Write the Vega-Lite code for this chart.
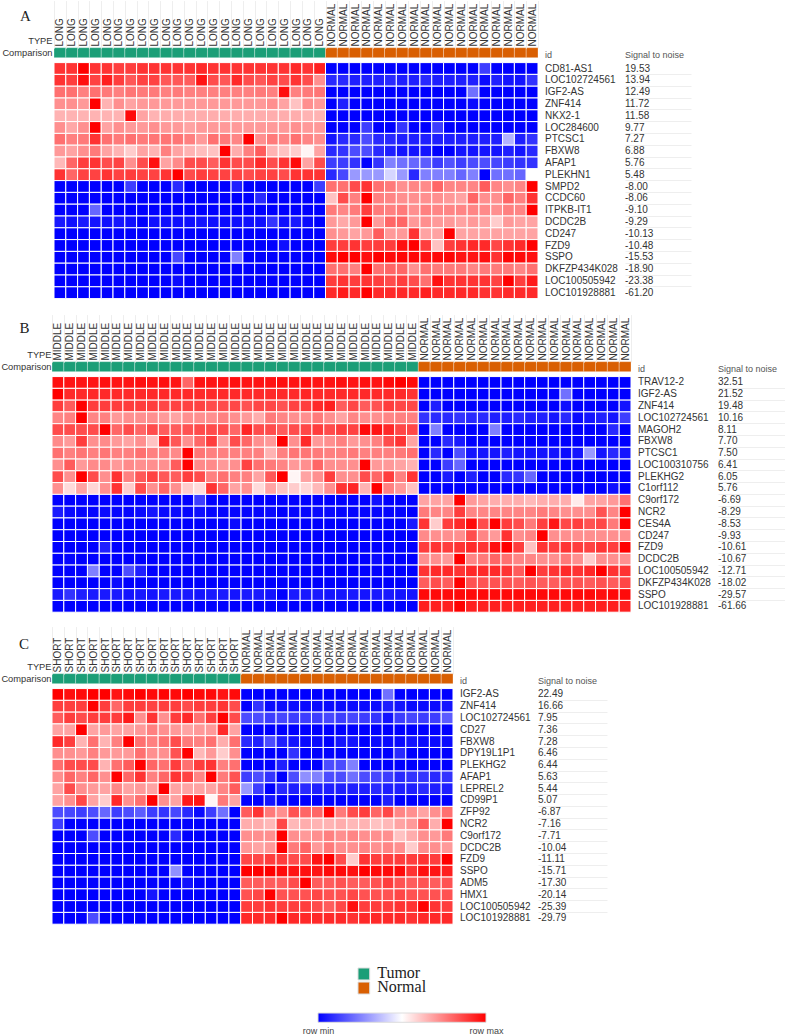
{"$schema":"https://vega.github.io/schema/vega-lite/v6.json","background":"white","padding":{"left":0,"top":0,"right":0,"bottom":0},"spacing":10,"config":{"view":{"stroke":null},"font":"Liberation Sans"},
"datasets":{
"cellsA":[
{"row":1,"col":1,"v":90},{"row":1,"col":2,"v":90},{"row":1,"col":3,"v":100},{"row":1,"col":4,"v":90},{"row":1,"col":5,"v":90},{"row":1,"col":6,"v":88},{"row":1,"col":7,"v":88},{"row":1,"col":8,"v":90},{"row":1,"col":9,"v":90},{"row":1,"col":10,"v":90},{"row":1,"col":11,"v":90},{"row":1,"col":12,"v":90},{"row":1,"col":13,"v":92},{"row":1,"col":14,"v":90},{"row":1,"col":15,"v":90},{"row":1,"col":16,"v":90},{"row":1,"col":17,"v":90},{"row":1,"col":18,"v":90},{"row":1,"col":19,"v":90},{"row":1,"col":20,"v":90},{"row":1,"col":21,"v":92},{"row":1,"col":22,"v":90},{"row":1,"col":23,"v":94},{"row":1,"col":24,"v":0},{"row":1,"col":25,"v":0},{"row":1,"col":26,"v":0},{"row":1,"col":27,"v":0},{"row":1,"col":28,"v":0},{"row":1,"col":29,"v":0},{"row":1,"col":30,"v":0},{"row":1,"col":31,"v":0},{"row":1,"col":32,"v":0},{"row":1,"col":33,"v":0},{"row":1,"col":34,"v":0},{"row":1,"col":35,"v":0},{"row":1,"col":36,"v":0},{"row":1,"col":37,"v":12},{"row":1,"col":38,"v":0},{"row":1,"col":39,"v":0},{"row":1,"col":40,"v":0},{"row":1,"col":41,"v":0},
{"row":2,"col":1,"v":90},{"row":2,"col":2,"v":88},{"row":2,"col":3,"v":97},{"row":2,"col":4,"v":87},{"row":2,"col":5,"v":94},{"row":2,"col":6,"v":88},{"row":2,"col":7,"v":83},{"row":2,"col":8,"v":87},{"row":2,"col":9,"v":87},{"row":2,"col":10,"v":83},{"row":2,"col":11,"v":83},{"row":2,"col":12,"v":82},{"row":2,"col":13,"v":96},{"row":2,"col":14,"v":85},{"row":2,"col":15,"v":83},{"row":2,"col":16,"v":92},{"row":2,"col":17,"v":85},{"row":2,"col":18,"v":83},{"row":2,"col":19,"v":87},{"row":2,"col":20,"v":85},{"row":2,"col":21,"v":90},{"row":2,"col":22,"v":85},{"row":2,"col":23,"v":72},{"row":2,"col":24,"v":8},{"row":2,"col":25,"v":8},{"row":2,"col":26,"v":6},{"row":2,"col":27,"v":6},{"row":2,"col":28,"v":6},{"row":2,"col":29,"v":8},{"row":2,"col":30,"v":6},{"row":2,"col":31,"v":6},{"row":2,"col":32,"v":8},{"row":2,"col":33,"v":6},{"row":2,"col":34,"v":6},{"row":2,"col":35,"v":6},{"row":2,"col":36,"v":6},{"row":2,"col":37,"v":2},{"row":2,"col":38,"v":6},{"row":2,"col":39,"v":4},{"row":2,"col":40,"v":4},{"row":2,"col":41,"v":10},
{"row":3,"col":1,"v":78},{"row":3,"col":2,"v":78},{"row":3,"col":3,"v":75},{"row":3,"col":4,"v":78},{"row":3,"col":5,"v":76},{"row":3,"col":6,"v":75},{"row":3,"col":7,"v":77},{"row":3,"col":8,"v":76},{"row":3,"col":9,"v":76},{"row":3,"col":10,"v":75},{"row":3,"col":11,"v":76},{"row":3,"col":12,"v":75},{"row":3,"col":13,"v":75},{"row":3,"col":14,"v":75},{"row":3,"col":15,"v":75},{"row":3,"col":16,"v":75},{"row":3,"col":17,"v":75},{"row":3,"col":18,"v":76},{"row":3,"col":19,"v":75},{"row":3,"col":20,"v":97},{"row":3,"col":21,"v":75},{"row":3,"col":22,"v":76},{"row":3,"col":23,"v":77},{"row":3,"col":24,"v":0},{"row":3,"col":25,"v":0},{"row":3,"col":26,"v":0},{"row":3,"col":27,"v":0},{"row":3,"col":28,"v":0},{"row":3,"col":29,"v":0},{"row":3,"col":30,"v":0},{"row":3,"col":31,"v":0},{"row":3,"col":32,"v":0},{"row":3,"col":33,"v":0},{"row":3,"col":34,"v":0},{"row":3,"col":35,"v":0},{"row":3,"col":36,"v":22},{"row":3,"col":37,"v":0},{"row":3,"col":38,"v":0},{"row":3,"col":39,"v":0},{"row":3,"col":40,"v":0},{"row":3,"col":41,"v":0},
{"row":4,"col":1,"v":72},{"row":4,"col":2,"v":72},{"row":4,"col":3,"v":70},{"row":4,"col":4,"v":100},{"row":4,"col":5,"v":65},{"row":4,"col":6,"v":72},{"row":4,"col":7,"v":68},{"row":4,"col":8,"v":70},{"row":4,"col":9,"v":70},{"row":4,"col":10,"v":70},{"row":4,"col":11,"v":70},{"row":4,"col":12,"v":70},{"row":4,"col":13,"v":70},{"row":4,"col":14,"v":70},{"row":4,"col":15,"v":70},{"row":4,"col":16,"v":70},{"row":4,"col":17,"v":70},{"row":4,"col":18,"v":70},{"row":4,"col":19,"v":72},{"row":4,"col":20,"v":68},{"row":4,"col":21,"v":62},{"row":4,"col":22,"v":72},{"row":4,"col":23,"v":70},{"row":4,"col":24,"v":0},{"row":4,"col":25,"v":6},{"row":4,"col":26,"v":0},{"row":4,"col":27,"v":0},{"row":4,"col":28,"v":0},{"row":4,"col":29,"v":0},{"row":4,"col":30,"v":0},{"row":4,"col":31,"v":0},{"row":4,"col":32,"v":0},{"row":4,"col":33,"v":0},{"row":4,"col":34,"v":0},{"row":4,"col":35,"v":0},{"row":4,"col":36,"v":2},{"row":4,"col":37,"v":0},{"row":4,"col":38,"v":0},{"row":4,"col":39,"v":0},{"row":4,"col":40,"v":0},{"row":4,"col":41,"v":0},
{"row":5,"col":1,"v":65},{"row":5,"col":2,"v":65},{"row":5,"col":3,"v":65},{"row":5,"col":4,"v":65},{"row":5,"col":5,"v":65},{"row":5,"col":6,"v":65},{"row":5,"col":7,"v":98},{"row":5,"col":8,"v":68},{"row":5,"col":9,"v":65},{"row":5,"col":10,"v":66},{"row":5,"col":11,"v":66},{"row":5,"col":12,"v":66},{"row":5,"col":13,"v":66},{"row":5,"col":14,"v":66},{"row":5,"col":15,"v":66},{"row":5,"col":16,"v":66},{"row":5,"col":17,"v":66},{"row":5,"col":18,"v":66},{"row":5,"col":19,"v":66},{"row":5,"col":20,"v":66},{"row":5,"col":21,"v":66},{"row":5,"col":22,"v":65},{"row":5,"col":23,"v":65},{"row":5,"col":24,"v":0},{"row":5,"col":25,"v":0},{"row":5,"col":26,"v":0},{"row":5,"col":27,"v":0},{"row":5,"col":28,"v":0},{"row":5,"col":29,"v":0},{"row":5,"col":30,"v":0},{"row":5,"col":31,"v":0},{"row":5,"col":32,"v":0},{"row":5,"col":33,"v":0},{"row":5,"col":34,"v":0},{"row":5,"col":35,"v":0},{"row":5,"col":36,"v":0},{"row":5,"col":37,"v":0},{"row":5,"col":38,"v":0},{"row":5,"col":39,"v":0},{"row":5,"col":40,"v":0},{"row":5,"col":41,"v":0},
{"row":6,"col":1,"v":72},{"row":6,"col":2,"v":67},{"row":6,"col":3,"v":72},{"row":6,"col":4,"v":100},{"row":6,"col":5,"v":68},{"row":6,"col":6,"v":72},{"row":6,"col":7,"v":70},{"row":6,"col":8,"v":70},{"row":6,"col":9,"v":72},{"row":6,"col":10,"v":70},{"row":6,"col":11,"v":70},{"row":6,"col":12,"v":68},{"row":6,"col":13,"v":70},{"row":6,"col":14,"v":70},{"row":6,"col":15,"v":70},{"row":6,"col":16,"v":70},{"row":6,"col":17,"v":70},{"row":6,"col":18,"v":70},{"row":6,"col":19,"v":70},{"row":6,"col":20,"v":70},{"row":6,"col":21,"v":72},{"row":6,"col":22,"v":70},{"row":6,"col":23,"v":70},{"row":6,"col":24,"v":0},{"row":6,"col":25,"v":0},{"row":6,"col":26,"v":0},{"row":6,"col":27,"v":12},{"row":6,"col":28,"v":0},{"row":6,"col":29,"v":0},{"row":6,"col":30,"v":10},{"row":6,"col":31,"v":0},{"row":6,"col":32,"v":0},{"row":6,"col":33,"v":12},{"row":6,"col":34,"v":0},{"row":6,"col":35,"v":0},{"row":6,"col":36,"v":0},{"row":6,"col":37,"v":0},{"row":6,"col":38,"v":0},{"row":6,"col":39,"v":0},{"row":6,"col":40,"v":0},{"row":6,"col":41,"v":0},
{"row":7,"col":1,"v":78},{"row":7,"col":2,"v":75},{"row":7,"col":3,"v":76},{"row":7,"col":4,"v":90},{"row":7,"col":5,"v":78},{"row":7,"col":6,"v":76},{"row":7,"col":7,"v":78},{"row":7,"col":8,"v":76},{"row":7,"col":9,"v":77},{"row":7,"col":10,"v":77},{"row":7,"col":11,"v":77},{"row":7,"col":12,"v":75},{"row":7,"col":13,"v":70},{"row":7,"col":14,"v":78},{"row":7,"col":15,"v":76},{"row":7,"col":16,"v":74},{"row":7,"col":17,"v":100},{"row":7,"col":18,"v":72},{"row":7,"col":19,"v":76},{"row":7,"col":20,"v":74},{"row":7,"col":21,"v":78},{"row":7,"col":22,"v":74},{"row":7,"col":23,"v":72},{"row":7,"col":24,"v":4},{"row":7,"col":25,"v":8},{"row":7,"col":26,"v":8},{"row":7,"col":27,"v":15},{"row":7,"col":28,"v":8},{"row":7,"col":29,"v":8},{"row":7,"col":30,"v":6},{"row":7,"col":31,"v":6},{"row":7,"col":32,"v":6},{"row":7,"col":33,"v":6},{"row":7,"col":34,"v":6},{"row":7,"col":35,"v":6},{"row":7,"col":36,"v":6},{"row":7,"col":37,"v":6},{"row":7,"col":38,"v":6},{"row":7,"col":39,"v":35},{"row":7,"col":40,"v":6},{"row":7,"col":41,"v":10},
{"row":8,"col":1,"v":70},{"row":8,"col":2,"v":68},{"row":8,"col":3,"v":72},{"row":8,"col":4,"v":76},{"row":8,"col":5,"v":68},{"row":8,"col":6,"v":65},{"row":8,"col":7,"v":60},{"row":8,"col":8,"v":68},{"row":8,"col":9,"v":65},{"row":8,"col":10,"v":75},{"row":8,"col":11,"v":68},{"row":8,"col":12,"v":65},{"row":8,"col":13,"v":63},{"row":8,"col":14,"v":62},{"row":8,"col":15,"v":100},{"row":8,"col":16,"v":66},{"row":8,"col":17,"v":75},{"row":8,"col":18,"v":82},{"row":8,"col":19,"v":65},{"row":8,"col":20,"v":62},{"row":8,"col":21,"v":60},{"row":8,"col":22,"v":52},{"row":8,"col":23,"v":68},{"row":8,"col":24,"v":8},{"row":8,"col":25,"v":10},{"row":8,"col":26,"v":15},{"row":8,"col":27,"v":15},{"row":8,"col":28,"v":8},{"row":8,"col":29,"v":6},{"row":8,"col":30,"v":4},{"row":8,"col":31,"v":4},{"row":8,"col":32,"v":4},{"row":8,"col":33,"v":0},{"row":8,"col":34,"v":0},{"row":8,"col":35,"v":4},{"row":8,"col":36,"v":4},{"row":8,"col":37,"v":4},{"row":8,"col":38,"v":4},{"row":8,"col":39,"v":6},{"row":8,"col":40,"v":4},{"row":8,"col":41,"v":8},
{"row":9,"col":1,"v":64},{"row":9,"col":2,"v":80},{"row":9,"col":3,"v":88},{"row":9,"col":4,"v":90},{"row":9,"col":5,"v":85},{"row":9,"col":6,"v":87},{"row":9,"col":7,"v":72},{"row":9,"col":8,"v":85},{"row":9,"col":9,"v":97},{"row":9,"col":10,"v":68},{"row":9,"col":11,"v":73},{"row":9,"col":12,"v":85},{"row":9,"col":13,"v":85},{"row":9,"col":14,"v":82},{"row":9,"col":15,"v":90},{"row":9,"col":16,"v":85},{"row":9,"col":17,"v":85},{"row":9,"col":18,"v":92},{"row":9,"col":19,"v":85},{"row":9,"col":20,"v":90},{"row":9,"col":21,"v":98},{"row":9,"col":22,"v":68},{"row":9,"col":23,"v":85},{"row":9,"col":24,"v":12},{"row":9,"col":25,"v":12},{"row":9,"col":26,"v":10},{"row":9,"col":27,"v":0},{"row":9,"col":28,"v":10},{"row":9,"col":29,"v":25},{"row":9,"col":30,"v":22},{"row":9,"col":31,"v":20},{"row":9,"col":32,"v":18},{"row":9,"col":33,"v":12},{"row":9,"col":34,"v":16},{"row":9,"col":35,"v":12},{"row":9,"col":36,"v":15},{"row":9,"col":37,"v":15},{"row":9,"col":38,"v":14},{"row":9,"col":39,"v":12},{"row":9,"col":40,"v":10},{"row":9,"col":41,"v":10},
{"row":10,"col":1,"v":90},{"row":10,"col":2,"v":80},{"row":10,"col":3,"v":87},{"row":10,"col":4,"v":87},{"row":10,"col":5,"v":90},{"row":10,"col":6,"v":87},{"row":10,"col":7,"v":88},{"row":10,"col":8,"v":87},{"row":10,"col":9,"v":87},{"row":10,"col":10,"v":90},{"row":10,"col":11,"v":100},{"row":10,"col":12,"v":85},{"row":10,"col":13,"v":88},{"row":10,"col":14,"v":87},{"row":10,"col":15,"v":87},{"row":10,"col":16,"v":87},{"row":10,"col":17,"v":85},{"row":10,"col":18,"v":87},{"row":10,"col":19,"v":87},{"row":10,"col":20,"v":85},{"row":10,"col":21,"v":90},{"row":10,"col":22,"v":90},{"row":10,"col":23,"v":90},{"row":10,"col":24,"v":8},{"row":10,"col":25,"v":14},{"row":10,"col":26,"v":30},{"row":10,"col":27,"v":30},{"row":10,"col":28,"v":30},{"row":10,"col":29,"v":42},{"row":10,"col":30,"v":30},{"row":10,"col":31,"v":8},{"row":10,"col":32,"v":25},{"row":10,"col":33,"v":25},{"row":10,"col":34,"v":25},{"row":10,"col":35,"v":20},{"row":10,"col":36,"v":25},{"row":10,"col":37,"v":0},{"row":10,"col":38,"v":22},{"row":10,"col":39,"v":22},{"row":10,"col":40,"v":20},{"row":10,"col":41,"v":50},
{"row":11,"col":1,"v":0},{"row":11,"col":2,"v":0},{"row":11,"col":3,"v":0},{"row":11,"col":4,"v":0},{"row":11,"col":5,"v":0},{"row":11,"col":6,"v":0},{"row":11,"col":7,"v":12},{"row":11,"col":8,"v":0},{"row":11,"col":9,"v":0},{"row":11,"col":10,"v":0},{"row":11,"col":11,"v":8},{"row":11,"col":12,"v":0},{"row":11,"col":13,"v":0},{"row":11,"col":14,"v":0},{"row":11,"col":15,"v":0},{"row":11,"col":16,"v":6},{"row":11,"col":17,"v":0},{"row":11,"col":18,"v":0},{"row":11,"col":19,"v":0},{"row":11,"col":20,"v":0},{"row":11,"col":21,"v":0},{"row":11,"col":22,"v":0},{"row":11,"col":23,"v":12},{"row":11,"col":24,"v":78},{"row":11,"col":25,"v":78},{"row":11,"col":26,"v":85},{"row":11,"col":27,"v":90},{"row":11,"col":28,"v":78},{"row":11,"col":29,"v":76},{"row":11,"col":30,"v":72},{"row":11,"col":31,"v":74},{"row":11,"col":32,"v":73},{"row":11,"col":33,"v":80},{"row":11,"col":34,"v":74},{"row":11,"col":35,"v":74},{"row":11,"col":36,"v":74},{"row":11,"col":37,"v":82},{"row":11,"col":38,"v":74},{"row":11,"col":39,"v":72},{"row":11,"col":40,"v":74},{"row":11,"col":41,"v":100},
{"row":12,"col":1,"v":0},{"row":12,"col":2,"v":0},{"row":12,"col":3,"v":0},{"row":12,"col":4,"v":0},{"row":12,"col":5,"v":0},{"row":12,"col":6,"v":0},{"row":12,"col":7,"v":0},{"row":12,"col":8,"v":0},{"row":12,"col":9,"v":0},{"row":12,"col":10,"v":0},{"row":12,"col":11,"v":0},{"row":12,"col":12,"v":0},{"row":12,"col":13,"v":0},{"row":12,"col":14,"v":0},{"row":12,"col":15,"v":0},{"row":12,"col":16,"v":0},{"row":12,"col":17,"v":0},{"row":12,"col":18,"v":8},{"row":12,"col":19,"v":0},{"row":12,"col":20,"v":0},{"row":12,"col":21,"v":0},{"row":12,"col":22,"v":0},{"row":12,"col":23,"v":0},{"row":12,"col":24,"v":62},{"row":12,"col":25,"v":85},{"row":12,"col":26,"v":75},{"row":12,"col":27,"v":100},{"row":12,"col":28,"v":75},{"row":12,"col":29,"v":74},{"row":12,"col":30,"v":72},{"row":12,"col":31,"v":72},{"row":12,"col":32,"v":72},{"row":12,"col":33,"v":72},{"row":12,"col":34,"v":70},{"row":12,"col":35,"v":68},{"row":12,"col":36,"v":80},{"row":12,"col":37,"v":72},{"row":12,"col":38,"v":72},{"row":12,"col":39,"v":80},{"row":12,"col":40,"v":75},{"row":12,"col":41,"v":90},
{"row":13,"col":1,"v":0},{"row":13,"col":2,"v":0},{"row":13,"col":3,"v":0},{"row":13,"col":4,"v":20},{"row":13,"col":5,"v":0},{"row":13,"col":6,"v":0},{"row":13,"col":7,"v":0},{"row":13,"col":8,"v":0},{"row":13,"col":9,"v":0},{"row":13,"col":10,"v":0},{"row":13,"col":11,"v":0},{"row":13,"col":12,"v":0},{"row":13,"col":13,"v":0},{"row":13,"col":14,"v":0},{"row":13,"col":15,"v":0},{"row":13,"col":16,"v":0},{"row":13,"col":17,"v":0},{"row":13,"col":18,"v":0},{"row":13,"col":19,"v":0},{"row":13,"col":20,"v":0},{"row":13,"col":21,"v":0},{"row":13,"col":22,"v":0},{"row":13,"col":23,"v":0},{"row":13,"col":24,"v":76},{"row":13,"col":25,"v":74},{"row":13,"col":26,"v":76},{"row":13,"col":27,"v":88},{"row":13,"col":28,"v":76},{"row":13,"col":29,"v":75},{"row":13,"col":30,"v":76},{"row":13,"col":31,"v":72},{"row":13,"col":32,"v":75},{"row":13,"col":33,"v":74},{"row":13,"col":34,"v":74},{"row":13,"col":35,"v":74},{"row":13,"col":36,"v":74},{"row":13,"col":37,"v":73},{"row":13,"col":38,"v":72},{"row":13,"col":39,"v":75},{"row":13,"col":40,"v":74},{"row":13,"col":41,"v":100},
{"row":14,"col":1,"v":5},{"row":14,"col":2,"v":3},{"row":14,"col":3,"v":5},{"row":14,"col":4,"v":4},{"row":14,"col":5,"v":3},{"row":14,"col":6,"v":4},{"row":14,"col":7,"v":3},{"row":14,"col":8,"v":0},{"row":14,"col":9,"v":3},{"row":14,"col":10,"v":3},{"row":14,"col":11,"v":3},{"row":14,"col":12,"v":3},{"row":14,"col":13,"v":4},{"row":14,"col":14,"v":3},{"row":14,"col":15,"v":2},{"row":14,"col":16,"v":3},{"row":14,"col":17,"v":3},{"row":14,"col":18,"v":3},{"row":14,"col":19,"v":10},{"row":14,"col":20,"v":3},{"row":14,"col":21,"v":5},{"row":14,"col":22,"v":2},{"row":14,"col":23,"v":0},{"row":14,"col":24,"v":70},{"row":14,"col":25,"v":67},{"row":14,"col":26,"v":70},{"row":14,"col":27,"v":100},{"row":14,"col":28,"v":70},{"row":14,"col":29,"v":80},{"row":14,"col":30,"v":80},{"row":14,"col":31,"v":70},{"row":14,"col":32,"v":72},{"row":14,"col":33,"v":70},{"row":14,"col":34,"v":70},{"row":14,"col":35,"v":68},{"row":14,"col":36,"v":70},{"row":14,"col":37,"v":68},{"row":14,"col":38,"v":60},{"row":14,"col":39,"v":70},{"row":14,"col":40,"v":68},{"row":14,"col":41,"v":68},
{"row":15,"col":1,"v":0},{"row":15,"col":2,"v":0},{"row":15,"col":3,"v":0},{"row":15,"col":4,"v":0},{"row":15,"col":5,"v":0},{"row":15,"col":6,"v":0},{"row":15,"col":7,"v":0},{"row":15,"col":8,"v":0},{"row":15,"col":9,"v":0},{"row":15,"col":10,"v":0},{"row":15,"col":11,"v":0},{"row":15,"col":12,"v":0},{"row":15,"col":13,"v":0},{"row":15,"col":14,"v":0},{"row":15,"col":15,"v":0},{"row":15,"col":16,"v":0},{"row":15,"col":17,"v":0},{"row":15,"col":18,"v":0},{"row":15,"col":19,"v":0},{"row":15,"col":20,"v":0},{"row":15,"col":21,"v":0},{"row":15,"col":22,"v":0},{"row":15,"col":23,"v":0},{"row":15,"col":24,"v":72},{"row":15,"col":25,"v":70},{"row":15,"col":26,"v":68},{"row":15,"col":27,"v":70},{"row":15,"col":28,"v":82},{"row":15,"col":29,"v":70},{"row":15,"col":30,"v":70},{"row":15,"col":31,"v":90},{"row":15,"col":32,"v":68},{"row":15,"col":33,"v":68},{"row":15,"col":34,"v":100},{"row":15,"col":35,"v":68},{"row":15,"col":36,"v":68},{"row":15,"col":37,"v":68},{"row":15,"col":38,"v":68},{"row":15,"col":39,"v":68},{"row":15,"col":40,"v":68},{"row":15,"col":41,"v":68},
{"row":16,"col":1,"v":0},{"row":16,"col":2,"v":0},{"row":16,"col":3,"v":0},{"row":16,"col":4,"v":0},{"row":16,"col":5,"v":0},{"row":16,"col":6,"v":0},{"row":16,"col":7,"v":0},{"row":16,"col":8,"v":0},{"row":16,"col":9,"v":0},{"row":16,"col":10,"v":0},{"row":16,"col":11,"v":0},{"row":16,"col":12,"v":0},{"row":16,"col":13,"v":0},{"row":16,"col":14,"v":0},{"row":16,"col":15,"v":0},{"row":16,"col":16,"v":0},{"row":16,"col":17,"v":0},{"row":16,"col":18,"v":0},{"row":16,"col":19,"v":0},{"row":16,"col":20,"v":3},{"row":16,"col":21,"v":0},{"row":16,"col":22,"v":0},{"row":16,"col":23,"v":0},{"row":16,"col":24,"v":88},{"row":16,"col":25,"v":88},{"row":16,"col":26,"v":90},{"row":16,"col":27,"v":88},{"row":16,"col":28,"v":88},{"row":16,"col":29,"v":88},{"row":16,"col":30,"v":97},{"row":16,"col":31,"v":100},{"row":16,"col":32,"v":88},{"row":16,"col":33,"v":62},{"row":16,"col":34,"v":88},{"row":16,"col":35,"v":90},{"row":16,"col":36,"v":92},{"row":16,"col":37,"v":92},{"row":16,"col":38,"v":86},{"row":16,"col":39,"v":90},{"row":16,"col":40,"v":92},{"row":16,"col":41,"v":100},
{"row":17,"col":1,"v":0},{"row":17,"col":2,"v":0},{"row":17,"col":3,"v":0},{"row":17,"col":4,"v":0},{"row":17,"col":5,"v":0},{"row":17,"col":6,"v":0},{"row":17,"col":7,"v":0},{"row":17,"col":8,"v":0},{"row":17,"col":9,"v":0},{"row":17,"col":10,"v":0},{"row":17,"col":11,"v":14},{"row":17,"col":12,"v":0},{"row":17,"col":13,"v":0},{"row":17,"col":14,"v":0},{"row":17,"col":15,"v":0},{"row":17,"col":16,"v":25},{"row":17,"col":17,"v":0},{"row":17,"col":18,"v":0},{"row":17,"col":19,"v":0},{"row":17,"col":20,"v":0},{"row":17,"col":21,"v":0},{"row":17,"col":22,"v":0},{"row":17,"col":23,"v":0},{"row":17,"col":24,"v":98},{"row":17,"col":25,"v":100},{"row":17,"col":26,"v":100},{"row":17,"col":27,"v":97},{"row":17,"col":28,"v":100},{"row":17,"col":29,"v":98},{"row":17,"col":30,"v":99},{"row":17,"col":31,"v":99},{"row":17,"col":32,"v":97},{"row":17,"col":33,"v":98},{"row":17,"col":34,"v":99},{"row":17,"col":35,"v":96},{"row":17,"col":36,"v":96},{"row":17,"col":37,"v":97},{"row":17,"col":38,"v":90},{"row":17,"col":39,"v":99},{"row":17,"col":40,"v":98},{"row":17,"col":41,"v":97},
{"row":18,"col":1,"v":0},{"row":18,"col":2,"v":0},{"row":18,"col":3,"v":0},{"row":18,"col":4,"v":0},{"row":18,"col":5,"v":0},{"row":18,"col":6,"v":0},{"row":18,"col":7,"v":0},{"row":18,"col":8,"v":0},{"row":18,"col":9,"v":0},{"row":18,"col":10,"v":0},{"row":18,"col":11,"v":0},{"row":18,"col":12,"v":0},{"row":18,"col":13,"v":0},{"row":18,"col":14,"v":0},{"row":18,"col":15,"v":0},{"row":18,"col":16,"v":0},{"row":18,"col":17,"v":0},{"row":18,"col":18,"v":0},{"row":18,"col":19,"v":0},{"row":18,"col":20,"v":0},{"row":18,"col":21,"v":0},{"row":18,"col":22,"v":0},{"row":18,"col":23,"v":0},{"row":18,"col":24,"v":78},{"row":18,"col":25,"v":78},{"row":18,"col":26,"v":75},{"row":18,"col":27,"v":100},{"row":18,"col":28,"v":78},{"row":18,"col":29,"v":80},{"row":18,"col":30,"v":80},{"row":18,"col":31,"v":72},{"row":18,"col":32,"v":78},{"row":18,"col":33,"v":76},{"row":18,"col":34,"v":76},{"row":18,"col":35,"v":76},{"row":18,"col":36,"v":74},{"row":18,"col":37,"v":76},{"row":18,"col":38,"v":76},{"row":18,"col":39,"v":76},{"row":18,"col":40,"v":74},{"row":18,"col":41,"v":78},
{"row":19,"col":1,"v":0},{"row":19,"col":2,"v":0},{"row":19,"col":3,"v":0},{"row":19,"col":4,"v":0},{"row":19,"col":5,"v":0},{"row":19,"col":6,"v":0},{"row":19,"col":7,"v":0},{"row":19,"col":8,"v":0},{"row":19,"col":9,"v":0},{"row":19,"col":10,"v":0},{"row":19,"col":11,"v":2},{"row":19,"col":12,"v":0},{"row":19,"col":13,"v":0},{"row":19,"col":14,"v":0},{"row":19,"col":15,"v":0},{"row":19,"col":16,"v":0},{"row":19,"col":17,"v":0},{"row":19,"col":18,"v":0},{"row":19,"col":19,"v":0},{"row":19,"col":20,"v":0},{"row":19,"col":21,"v":0},{"row":19,"col":22,"v":0},{"row":19,"col":23,"v":0},{"row":19,"col":24,"v":88},{"row":19,"col":25,"v":90},{"row":19,"col":26,"v":88},{"row":19,"col":27,"v":90},{"row":19,"col":28,"v":88},{"row":19,"col":29,"v":85},{"row":19,"col":30,"v":88},{"row":19,"col":31,"v":85},{"row":19,"col":32,"v":78},{"row":19,"col":33,"v":97},{"row":19,"col":34,"v":90},{"row":19,"col":35,"v":90},{"row":19,"col":36,"v":90},{"row":19,"col":37,"v":90},{"row":19,"col":38,"v":87},{"row":19,"col":39,"v":100},{"row":19,"col":40,"v":88},{"row":19,"col":41,"v":95},
{"row":20,"col":1,"v":0},{"row":20,"col":2,"v":0},{"row":20,"col":3,"v":0},{"row":20,"col":4,"v":0},{"row":20,"col":5,"v":0},{"row":20,"col":6,"v":0},{"row":20,"col":7,"v":0},{"row":20,"col":8,"v":0},{"row":20,"col":9,"v":0},{"row":20,"col":10,"v":0},{"row":20,"col":11,"v":0},{"row":20,"col":12,"v":0},{"row":20,"col":13,"v":0},{"row":20,"col":14,"v":0},{"row":20,"col":15,"v":0},{"row":20,"col":16,"v":0},{"row":20,"col":17,"v":0},{"row":20,"col":18,"v":0},{"row":20,"col":19,"v":0},{"row":20,"col":20,"v":0},{"row":20,"col":21,"v":0},{"row":20,"col":22,"v":0},{"row":20,"col":23,"v":0},{"row":20,"col":24,"v":92},{"row":20,"col":25,"v":95},{"row":20,"col":26,"v":92},{"row":20,"col":27,"v":100},{"row":20,"col":28,"v":92},{"row":20,"col":29,"v":92},{"row":20,"col":30,"v":92},{"row":20,"col":31,"v":92},{"row":20,"col":32,"v":94},{"row":20,"col":33,"v":92},{"row":20,"col":34,"v":92},{"row":20,"col":35,"v":92},{"row":20,"col":36,"v":92},{"row":20,"col":37,"v":90},{"row":20,"col":38,"v":90},{"row":20,"col":39,"v":92},{"row":20,"col":40,"v":92},{"row":20,"col":41,"v":92}
],
"cellsB":[
{"row":1,"col":1,"v":97},{"row":1,"col":2,"v":96},{"row":1,"col":3,"v":96},{"row":1,"col":4,"v":96},{"row":1,"col":5,"v":97},{"row":1,"col":6,"v":96},{"row":1,"col":7,"v":96},{"row":1,"col":8,"v":97},{"row":1,"col":9,"v":96},{"row":1,"col":10,"v":97},{"row":1,"col":11,"v":96},{"row":1,"col":12,"v":80},{"row":1,"col":13,"v":96},{"row":1,"col":14,"v":96},{"row":1,"col":15,"v":96},{"row":1,"col":16,"v":97},{"row":1,"col":17,"v":96},{"row":1,"col":18,"v":96},{"row":1,"col":19,"v":96},{"row":1,"col":20,"v":97},{"row":1,"col":21,"v":96},{"row":1,"col":22,"v":97},{"row":1,"col":23,"v":96},{"row":1,"col":24,"v":96},{"row":1,"col":25,"v":97},{"row":1,"col":26,"v":96},{"row":1,"col":27,"v":97},{"row":1,"col":28,"v":96},{"row":1,"col":29,"v":98},{"row":1,"col":30,"v":100},{"row":1,"col":31,"v":98},{"row":1,"col":32,"v":0},{"row":1,"col":33,"v":0},{"row":1,"col":34,"v":0},{"row":1,"col":35,"v":0},{"row":1,"col":36,"v":0},{"row":1,"col":37,"v":0},{"row":1,"col":38,"v":0},{"row":1,"col":39,"v":0},{"row":1,"col":40,"v":0},{"row":1,"col":41,"v":0},{"row":1,"col":42,"v":0},{"row":1,"col":43,"v":0},{"row":1,"col":44,"v":0},{"row":1,"col":45,"v":0},{"row":1,"col":46,"v":0},{"row":1,"col":47,"v":0},{"row":1,"col":48,"v":0},{"row":1,"col":49,"v":0},
{"row":2,"col":1,"v":100},{"row":2,"col":2,"v":92},{"row":2,"col":3,"v":92},{"row":2,"col":4,"v":92},{"row":2,"col":5,"v":92},{"row":2,"col":6,"v":92},{"row":2,"col":7,"v":92},{"row":2,"col":8,"v":92},{"row":2,"col":9,"v":92},{"row":2,"col":10,"v":92},{"row":2,"col":11,"v":92},{"row":2,"col":12,"v":92},{"row":2,"col":13,"v":92},{"row":2,"col":14,"v":92},{"row":2,"col":15,"v":92},{"row":2,"col":16,"v":92},{"row":2,"col":17,"v":92},{"row":2,"col":18,"v":92},{"row":2,"col":19,"v":92},{"row":2,"col":20,"v":92},{"row":2,"col":21,"v":92},{"row":2,"col":22,"v":93},{"row":2,"col":23,"v":92},{"row":2,"col":24,"v":92},{"row":2,"col":25,"v":92},{"row":2,"col":26,"v":92},{"row":2,"col":27,"v":92},{"row":2,"col":28,"v":92},{"row":2,"col":29,"v":92},{"row":2,"col":30,"v":92},{"row":2,"col":31,"v":90},{"row":2,"col":32,"v":0},{"row":2,"col":33,"v":0},{"row":2,"col":34,"v":0},{"row":2,"col":35,"v":0},{"row":2,"col":36,"v":0},{"row":2,"col":37,"v":0},{"row":2,"col":38,"v":0},{"row":2,"col":39,"v":0},{"row":2,"col":40,"v":0},{"row":2,"col":41,"v":0},{"row":2,"col":42,"v":0},{"row":2,"col":43,"v":0},{"row":2,"col":44,"v":22},{"row":2,"col":45,"v":0},{"row":2,"col":46,"v":0},{"row":2,"col":47,"v":0},{"row":2,"col":48,"v":0},{"row":2,"col":49,"v":0},
{"row":3,"col":1,"v":88},{"row":3,"col":2,"v":82},{"row":3,"col":3,"v":100},{"row":3,"col":4,"v":88},{"row":3,"col":5,"v":88},{"row":3,"col":6,"v":88},{"row":3,"col":7,"v":88},{"row":3,"col":8,"v":88},{"row":3,"col":9,"v":88},{"row":3,"col":10,"v":86},{"row":3,"col":11,"v":87},{"row":3,"col":12,"v":87},{"row":3,"col":13,"v":87},{"row":3,"col":14,"v":85},{"row":3,"col":15,"v":85},{"row":3,"col":16,"v":86},{"row":3,"col":17,"v":84},{"row":3,"col":18,"v":86},{"row":3,"col":19,"v":86},{"row":3,"col":20,"v":84},{"row":3,"col":21,"v":87},{"row":3,"col":22,"v":88},{"row":3,"col":23,"v":92},{"row":3,"col":24,"v":94},{"row":3,"col":25,"v":82},{"row":3,"col":26,"v":86},{"row":3,"col":27,"v":82},{"row":3,"col":28,"v":84},{"row":3,"col":29,"v":88},{"row":3,"col":30,"v":86},{"row":3,"col":31,"v":86},{"row":3,"col":32,"v":0},{"row":3,"col":33,"v":6},{"row":3,"col":34,"v":0},{"row":3,"col":35,"v":0},{"row":3,"col":36,"v":0},{"row":3,"col":37,"v":0},{"row":3,"col":38,"v":0},{"row":3,"col":39,"v":0},{"row":3,"col":40,"v":0},{"row":3,"col":41,"v":0},{"row":3,"col":42,"v":0},{"row":3,"col":43,"v":0},{"row":3,"col":44,"v":3},{"row":3,"col":45,"v":0},{"row":3,"col":46,"v":0},{"row":3,"col":47,"v":0},{"row":3,"col":48,"v":0},{"row":3,"col":49,"v":4},
{"row":4,"col":1,"v":74},{"row":4,"col":2,"v":75},{"row":4,"col":3,"v":100},{"row":4,"col":4,"v":74},{"row":4,"col":5,"v":75},{"row":4,"col":6,"v":70},{"row":4,"col":7,"v":72},{"row":4,"col":8,"v":72},{"row":4,"col":9,"v":72},{"row":4,"col":10,"v":70},{"row":4,"col":11,"v":68},{"row":4,"col":12,"v":72},{"row":4,"col":13,"v":72},{"row":4,"col":14,"v":72},{"row":4,"col":15,"v":75},{"row":4,"col":16,"v":72},{"row":4,"col":17,"v":70},{"row":4,"col":18,"v":66},{"row":4,"col":19,"v":76},{"row":4,"col":20,"v":74},{"row":4,"col":21,"v":72},{"row":4,"col":22,"v":72},{"row":4,"col":23,"v":76},{"row":4,"col":24,"v":72},{"row":4,"col":25,"v":68},{"row":4,"col":26,"v":74},{"row":4,"col":27,"v":72},{"row":4,"col":28,"v":72},{"row":4,"col":29,"v":74},{"row":4,"col":30,"v":75},{"row":4,"col":31,"v":75},{"row":4,"col":32,"v":10},{"row":4,"col":33,"v":8},{"row":4,"col":34,"v":8},{"row":4,"col":35,"v":10},{"row":4,"col":36,"v":8},{"row":4,"col":37,"v":8},{"row":4,"col":38,"v":6},{"row":4,"col":39,"v":6},{"row":4,"col":40,"v":8},{"row":4,"col":41,"v":6},{"row":4,"col":42,"v":6},{"row":4,"col":43,"v":4},{"row":4,"col":44,"v":8},{"row":4,"col":45,"v":2},{"row":4,"col":46,"v":4},{"row":4,"col":47,"v":6},{"row":4,"col":48,"v":4},{"row":4,"col":49,"v":12},
{"row":5,"col":1,"v":85},{"row":5,"col":2,"v":85},{"row":5,"col":3,"v":85},{"row":5,"col":4,"v":85},{"row":5,"col":5,"v":100},{"row":5,"col":6,"v":80},{"row":5,"col":7,"v":85},{"row":5,"col":8,"v":80},{"row":5,"col":9,"v":85},{"row":5,"col":10,"v":82},{"row":5,"col":11,"v":82},{"row":5,"col":12,"v":84},{"row":5,"col":13,"v":85},{"row":5,"col":14,"v":85},{"row":5,"col":15,"v":85},{"row":5,"col":16,"v":80},{"row":5,"col":17,"v":93},{"row":5,"col":18,"v":85},{"row":5,"col":19,"v":85},{"row":5,"col":20,"v":82},{"row":5,"col":21,"v":85},{"row":5,"col":22,"v":86},{"row":5,"col":23,"v":88},{"row":5,"col":24,"v":85},{"row":5,"col":25,"v":88},{"row":5,"col":26,"v":87},{"row":5,"col":27,"v":98},{"row":5,"col":28,"v":96},{"row":5,"col":29,"v":92},{"row":5,"col":30,"v":86},{"row":5,"col":31,"v":86},{"row":5,"col":32,"v":0},{"row":5,"col":33,"v":25},{"row":5,"col":34,"v":0},{"row":5,"col":35,"v":0},{"row":5,"col":36,"v":0},{"row":5,"col":37,"v":0},{"row":5,"col":38,"v":25},{"row":5,"col":39,"v":0},{"row":5,"col":40,"v":0},{"row":5,"col":41,"v":0},{"row":5,"col":42,"v":0},{"row":5,"col":43,"v":0},{"row":5,"col":44,"v":0},{"row":5,"col":45,"v":0},{"row":5,"col":46,"v":0},{"row":5,"col":47,"v":0},{"row":5,"col":48,"v":8},{"row":5,"col":49,"v":0},
{"row":6,"col":1,"v":73},{"row":6,"col":2,"v":70},{"row":6,"col":3,"v":88},{"row":6,"col":4,"v":72},{"row":6,"col":5,"v":73},{"row":6,"col":6,"v":70},{"row":6,"col":7,"v":68},{"row":6,"col":8,"v":72},{"row":6,"col":9,"v":62},{"row":6,"col":10,"v":92},{"row":6,"col":11,"v":83},{"row":6,"col":12,"v":72},{"row":6,"col":13,"v":80},{"row":6,"col":14,"v":88},{"row":6,"col":15,"v":70},{"row":6,"col":16,"v":85},{"row":6,"col":17,"v":80},{"row":6,"col":18,"v":72},{"row":6,"col":19,"v":70},{"row":6,"col":20,"v":100},{"row":6,"col":21,"v":72},{"row":6,"col":22,"v":92},{"row":6,"col":23,"v":70},{"row":6,"col":24,"v":72},{"row":6,"col":25,"v":75},{"row":6,"col":26,"v":70},{"row":6,"col":27,"v":72},{"row":6,"col":28,"v":75},{"row":6,"col":29,"v":85},{"row":6,"col":30,"v":90},{"row":6,"col":31,"v":68},{"row":6,"col":32,"v":0},{"row":6,"col":33,"v":0},{"row":6,"col":34,"v":8},{"row":6,"col":35,"v":5},{"row":6,"col":36,"v":0},{"row":6,"col":37,"v":0},{"row":6,"col":38,"v":0},{"row":6,"col":39,"v":0},{"row":6,"col":40,"v":0},{"row":6,"col":41,"v":0},{"row":6,"col":42,"v":0},{"row":6,"col":43,"v":0},{"row":6,"col":44,"v":0},{"row":6,"col":45,"v":0},{"row":6,"col":46,"v":0},{"row":6,"col":47,"v":0},{"row":6,"col":48,"v":0},{"row":6,"col":49,"v":0},
{"row":7,"col":1,"v":78},{"row":7,"col":2,"v":75},{"row":7,"col":3,"v":77},{"row":7,"col":4,"v":75},{"row":7,"col":5,"v":77},{"row":7,"col":6,"v":75},{"row":7,"col":7,"v":75},{"row":7,"col":8,"v":78},{"row":7,"col":9,"v":75},{"row":7,"col":10,"v":75},{"row":7,"col":11,"v":73},{"row":7,"col":12,"v":100},{"row":7,"col":13,"v":77},{"row":7,"col":14,"v":75},{"row":7,"col":15,"v":75},{"row":7,"col":16,"v":75},{"row":7,"col":17,"v":75},{"row":7,"col":18,"v":75},{"row":7,"col":19,"v":65},{"row":7,"col":20,"v":75},{"row":7,"col":21,"v":77},{"row":7,"col":22,"v":77},{"row":7,"col":23,"v":76},{"row":7,"col":24,"v":75},{"row":7,"col":25,"v":75},{"row":7,"col":26,"v":76},{"row":7,"col":27,"v":75},{"row":7,"col":28,"v":75},{"row":7,"col":29,"v":75},{"row":7,"col":30,"v":76},{"row":7,"col":31,"v":78},{"row":7,"col":32,"v":0},{"row":7,"col":33,"v":8},{"row":7,"col":34,"v":0},{"row":7,"col":35,"v":15},{"row":7,"col":36,"v":4},{"row":7,"col":37,"v":4},{"row":7,"col":38,"v":4},{"row":7,"col":39,"v":6},{"row":7,"col":40,"v":4},{"row":7,"col":41,"v":4},{"row":7,"col":42,"v":4},{"row":7,"col":43,"v":4},{"row":7,"col":44,"v":2},{"row":7,"col":45,"v":4},{"row":7,"col":46,"v":30},{"row":7,"col":47,"v":4},{"row":7,"col":48,"v":8},{"row":7,"col":49,"v":4},
{"row":8,"col":1,"v":72},{"row":8,"col":2,"v":82},{"row":8,"col":3,"v":70},{"row":8,"col":4,"v":73},{"row":8,"col":5,"v":73},{"row":8,"col":6,"v":70},{"row":8,"col":7,"v":73},{"row":8,"col":8,"v":72},{"row":8,"col":9,"v":72},{"row":8,"col":10,"v":72},{"row":8,"col":11,"v":82},{"row":8,"col":12,"v":100},{"row":8,"col":13,"v":73},{"row":8,"col":14,"v":73},{"row":8,"col":15,"v":70},{"row":8,"col":16,"v":72},{"row":8,"col":17,"v":87},{"row":8,"col":18,"v":78},{"row":8,"col":19,"v":76},{"row":8,"col":20,"v":74},{"row":8,"col":21,"v":70},{"row":8,"col":22,"v":72},{"row":8,"col":23,"v":80},{"row":8,"col":24,"v":72},{"row":8,"col":25,"v":72},{"row":8,"col":26,"v":72},{"row":8,"col":27,"v":100},{"row":8,"col":28,"v":70},{"row":8,"col":29,"v":70},{"row":8,"col":30,"v":68},{"row":8,"col":31,"v":65},{"row":8,"col":32,"v":0},{"row":8,"col":33,"v":0},{"row":8,"col":34,"v":12},{"row":8,"col":35,"v":20},{"row":8,"col":36,"v":0},{"row":8,"col":37,"v":0},{"row":8,"col":38,"v":0},{"row":8,"col":39,"v":0},{"row":8,"col":40,"v":0},{"row":8,"col":41,"v":0},{"row":8,"col":42,"v":0},{"row":8,"col":43,"v":0},{"row":8,"col":44,"v":0},{"row":8,"col":45,"v":0},{"row":8,"col":46,"v":0},{"row":8,"col":47,"v":0},{"row":8,"col":48,"v":0},{"row":8,"col":49,"v":0},
{"row":9,"col":1,"v":85},{"row":9,"col":2,"v":72},{"row":9,"col":3,"v":100},{"row":9,"col":4,"v":85},{"row":9,"col":5,"v":72},{"row":9,"col":6,"v":90},{"row":9,"col":7,"v":75},{"row":9,"col":8,"v":83},{"row":9,"col":9,"v":87},{"row":9,"col":10,"v":83},{"row":9,"col":11,"v":82},{"row":9,"col":12,"v":88},{"row":9,"col":13,"v":85},{"row":9,"col":14,"v":75},{"row":9,"col":15,"v":78},{"row":9,"col":16,"v":75},{"row":9,"col":17,"v":75},{"row":9,"col":18,"v":68},{"row":9,"col":19,"v":83},{"row":9,"col":20,"v":100},{"row":9,"col":21,"v":52},{"row":9,"col":22,"v":68},{"row":9,"col":23,"v":72},{"row":9,"col":24,"v":88},{"row":9,"col":25,"v":72},{"row":9,"col":26,"v":72},{"row":9,"col":27,"v":85},{"row":9,"col":28,"v":80},{"row":9,"col":29,"v":88},{"row":9,"col":30,"v":75},{"row":9,"col":31,"v":90},{"row":9,"col":32,"v":0},{"row":9,"col":33,"v":0},{"row":9,"col":34,"v":5},{"row":9,"col":35,"v":0},{"row":9,"col":36,"v":6},{"row":9,"col":37,"v":0},{"row":9,"col":38,"v":0},{"row":9,"col":39,"v":8},{"row":9,"col":40,"v":10},{"row":9,"col":41,"v":20},{"row":9,"col":42,"v":0},{"row":9,"col":43,"v":0},{"row":9,"col":44,"v":0},{"row":9,"col":45,"v":0},{"row":9,"col":46,"v":0},{"row":9,"col":47,"v":0},{"row":9,"col":48,"v":0},{"row":9,"col":49,"v":0},
{"row":10,"col":1,"v":72},{"row":10,"col":2,"v":57},{"row":10,"col":3,"v":68},{"row":10,"col":4,"v":58},{"row":10,"col":5,"v":72},{"row":10,"col":6,"v":90},{"row":10,"col":7,"v":60},{"row":10,"col":8,"v":85},{"row":10,"col":9,"v":72},{"row":10,"col":10,"v":80},{"row":10,"col":11,"v":72},{"row":10,"col":12,"v":60},{"row":10,"col":13,"v":57},{"row":10,"col":14,"v":90},{"row":10,"col":15,"v":80},{"row":10,"col":16,"v":68},{"row":10,"col":17,"v":72},{"row":10,"col":18,"v":57},{"row":10,"col":19,"v":68},{"row":10,"col":20,"v":62},{"row":10,"col":21,"v":60},{"row":10,"col":22,"v":58},{"row":10,"col":23,"v":64},{"row":10,"col":24,"v":72},{"row":10,"col":25,"v":90},{"row":10,"col":26,"v":93},{"row":10,"col":27,"v":65},{"row":10,"col":28,"v":100},{"row":10,"col":29,"v":75},{"row":10,"col":30,"v":70},{"row":10,"col":31,"v":62},{"row":10,"col":32,"v":0},{"row":10,"col":33,"v":0},{"row":10,"col":34,"v":0},{"row":10,"col":35,"v":0},{"row":10,"col":36,"v":0},{"row":10,"col":37,"v":0},{"row":10,"col":38,"v":0},{"row":10,"col":39,"v":0},{"row":10,"col":40,"v":0},{"row":10,"col":41,"v":0},{"row":10,"col":42,"v":0},{"row":10,"col":43,"v":0},{"row":10,"col":44,"v":0},{"row":10,"col":45,"v":0},{"row":10,"col":46,"v":0},{"row":10,"col":47,"v":0},{"row":10,"col":48,"v":3},{"row":10,"col":49,"v":0},
{"row":11,"col":1,"v":0},{"row":11,"col":2,"v":0},{"row":11,"col":3,"v":0},{"row":11,"col":4,"v":0},{"row":11,"col":5,"v":0},{"row":11,"col":6,"v":0},{"row":11,"col":7,"v":0},{"row":11,"col":8,"v":0},{"row":11,"col":9,"v":0},{"row":11,"col":10,"v":0},{"row":11,"col":11,"v":0},{"row":11,"col":12,"v":0},{"row":11,"col":13,"v":12},{"row":11,"col":14,"v":0},{"row":11,"col":15,"v":0},{"row":11,"col":16,"v":0},{"row":11,"col":17,"v":0},{"row":11,"col":18,"v":0},{"row":11,"col":19,"v":0},{"row":11,"col":20,"v":0},{"row":11,"col":21,"v":0},{"row":11,"col":22,"v":0},{"row":11,"col":23,"v":0},{"row":11,"col":24,"v":0},{"row":11,"col":25,"v":0},{"row":11,"col":26,"v":0},{"row":11,"col":27,"v":0},{"row":11,"col":28,"v":3},{"row":11,"col":29,"v":0},{"row":11,"col":30,"v":0},{"row":11,"col":31,"v":0},{"row":11,"col":32,"v":68},{"row":11,"col":33,"v":68},{"row":11,"col":34,"v":68},{"row":11,"col":35,"v":100},{"row":11,"col":36,"v":70},{"row":11,"col":37,"v":68},{"row":11,"col":38,"v":66},{"row":11,"col":39,"v":66},{"row":11,"col":40,"v":66},{"row":11,"col":41,"v":64},{"row":11,"col":42,"v":66},{"row":11,"col":43,"v":66},{"row":11,"col":44,"v":66},{"row":11,"col":45,"v":54},{"row":11,"col":46,"v":68},{"row":11,"col":47,"v":68},{"row":11,"col":48,"v":70},{"row":11,"col":49,"v":78},
{"row":12,"col":1,"v":5},{"row":12,"col":2,"v":2},{"row":12,"col":3,"v":1},{"row":12,"col":4,"v":1},{"row":12,"col":5,"v":2},{"row":12,"col":6,"v":1},{"row":12,"col":7,"v":1},{"row":12,"col":8,"v":2},{"row":12,"col":9,"v":4},{"row":12,"col":10,"v":2},{"row":12,"col":11,"v":2},{"row":12,"col":12,"v":1},{"row":12,"col":13,"v":3},{"row":12,"col":14,"v":1},{"row":12,"col":15,"v":1},{"row":12,"col":16,"v":1},{"row":12,"col":17,"v":1},{"row":12,"col":18,"v":1},{"row":12,"col":19,"v":2},{"row":12,"col":20,"v":0},{"row":12,"col":21,"v":1},{"row":12,"col":22,"v":1},{"row":12,"col":23,"v":2},{"row":12,"col":24,"v":2},{"row":12,"col":25,"v":1},{"row":12,"col":26,"v":1},{"row":12,"col":27,"v":1},{"row":12,"col":28,"v":1},{"row":12,"col":29,"v":1},{"row":12,"col":30,"v":1},{"row":12,"col":31,"v":0},{"row":12,"col":32,"v":76},{"row":12,"col":33,"v":74},{"row":12,"col":34,"v":74},{"row":12,"col":35,"v":88},{"row":12,"col":36,"v":74},{"row":12,"col":37,"v":74},{"row":12,"col":38,"v":74},{"row":12,"col":39,"v":74},{"row":12,"col":40,"v":74},{"row":12,"col":41,"v":74},{"row":12,"col":42,"v":76},{"row":12,"col":43,"v":74},{"row":12,"col":44,"v":72},{"row":12,"col":45,"v":72},{"row":12,"col":46,"v":72},{"row":12,"col":47,"v":84},{"row":12,"col":48,"v":74},{"row":12,"col":49,"v":100},
{"row":13,"col":1,"v":0},{"row":13,"col":2,"v":0},{"row":13,"col":3,"v":0},{"row":13,"col":4,"v":0},{"row":13,"col":5,"v":0},{"row":13,"col":6,"v":0},{"row":13,"col":7,"v":0},{"row":13,"col":8,"v":0},{"row":13,"col":9,"v":0},{"row":13,"col":10,"v":0},{"row":13,"col":11,"v":0},{"row":13,"col":12,"v":0},{"row":13,"col":13,"v":0},{"row":13,"col":14,"v":0},{"row":13,"col":15,"v":0},{"row":13,"col":16,"v":2},{"row":13,"col":17,"v":0},{"row":13,"col":18,"v":0},{"row":13,"col":19,"v":0},{"row":13,"col":20,"v":0},{"row":13,"col":21,"v":0},{"row":13,"col":22,"v":0},{"row":13,"col":23,"v":0},{"row":13,"col":24,"v":0},{"row":13,"col":25,"v":0},{"row":13,"col":26,"v":0},{"row":13,"col":27,"v":0},{"row":13,"col":28,"v":0},{"row":13,"col":29,"v":0},{"row":13,"col":30,"v":0},{"row":13,"col":31,"v":5},{"row":13,"col":32,"v":90},{"row":13,"col":33,"v":60},{"row":13,"col":34,"v":88},{"row":13,"col":35,"v":92},{"row":13,"col":36,"v":98},{"row":13,"col":37,"v":85},{"row":13,"col":38,"v":100},{"row":13,"col":39,"v":88},{"row":13,"col":40,"v":85},{"row":13,"col":41,"v":76},{"row":13,"col":42,"v":88},{"row":13,"col":43,"v":96},{"row":13,"col":44,"v":86},{"row":13,"col":45,"v":88},{"row":13,"col":46,"v":84},{"row":13,"col":47,"v":86},{"row":13,"col":48,"v":76},{"row":13,"col":49,"v":100},
{"row":14,"col":1,"v":0},{"row":14,"col":2,"v":0},{"row":14,"col":3,"v":0},{"row":14,"col":4,"v":0},{"row":14,"col":5,"v":0},{"row":14,"col":6,"v":0},{"row":14,"col":7,"v":0},{"row":14,"col":8,"v":0},{"row":14,"col":9,"v":0},{"row":14,"col":10,"v":0},{"row":14,"col":11,"v":0},{"row":14,"col":12,"v":0},{"row":14,"col":13,"v":0},{"row":14,"col":14,"v":0},{"row":14,"col":15,"v":0},{"row":14,"col":16,"v":0},{"row":14,"col":17,"v":0},{"row":14,"col":18,"v":0},{"row":14,"col":19,"v":0},{"row":14,"col":20,"v":0},{"row":14,"col":21,"v":0},{"row":14,"col":22,"v":0},{"row":14,"col":23,"v":0},{"row":14,"col":24,"v":0},{"row":14,"col":25,"v":0},{"row":14,"col":26,"v":0},{"row":14,"col":27,"v":0},{"row":14,"col":28,"v":0},{"row":14,"col":29,"v":0},{"row":14,"col":30,"v":0},{"row":14,"col":31,"v":0},{"row":14,"col":32,"v":73},{"row":14,"col":33,"v":72},{"row":14,"col":34,"v":72},{"row":14,"col":35,"v":72},{"row":14,"col":36,"v":85},{"row":14,"col":37,"v":74},{"row":14,"col":38,"v":70},{"row":14,"col":39,"v":90},{"row":14,"col":40,"v":72},{"row":14,"col":41,"v":74},{"row":14,"col":42,"v":100},{"row":14,"col":43,"v":72},{"row":14,"col":44,"v":72},{"row":14,"col":45,"v":72},{"row":14,"col":46,"v":72},{"row":14,"col":47,"v":72},{"row":14,"col":48,"v":72},{"row":14,"col":49,"v":72},
{"row":15,"col":1,"v":0},{"row":15,"col":2,"v":0},{"row":15,"col":3,"v":0},{"row":15,"col":4,"v":0},{"row":15,"col":5,"v":6},{"row":15,"col":6,"v":0},{"row":15,"col":7,"v":0},{"row":15,"col":8,"v":0},{"row":15,"col":9,"v":0},{"row":15,"col":10,"v":0},{"row":15,"col":11,"v":0},{"row":15,"col":12,"v":0},{"row":15,"col":13,"v":0},{"row":15,"col":14,"v":0},{"row":15,"col":15,"v":0},{"row":15,"col":16,"v":0},{"row":15,"col":17,"v":0},{"row":15,"col":18,"v":0},{"row":15,"col":19,"v":0},{"row":15,"col":20,"v":0},{"row":15,"col":21,"v":0},{"row":15,"col":22,"v":0},{"row":15,"col":23,"v":0},{"row":15,"col":24,"v":0},{"row":15,"col":25,"v":0},{"row":15,"col":26,"v":0},{"row":15,"col":27,"v":0},{"row":15,"col":28,"v":0},{"row":15,"col":29,"v":0},{"row":15,"col":30,"v":0},{"row":15,"col":31,"v":0},{"row":15,"col":32,"v":88},{"row":15,"col":33,"v":90},{"row":15,"col":34,"v":88},{"row":15,"col":35,"v":90},{"row":15,"col":36,"v":92},{"row":15,"col":37,"v":90},{"row":15,"col":38,"v":97},{"row":15,"col":39,"v":100},{"row":15,"col":40,"v":88},{"row":15,"col":41,"v":62},{"row":15,"col":42,"v":90},{"row":15,"col":43,"v":88},{"row":15,"col":44,"v":90},{"row":15,"col":45,"v":88},{"row":15,"col":46,"v":87},{"row":15,"col":47,"v":90},{"row":15,"col":48,"v":88},{"row":15,"col":49,"v":100},
{"row":16,"col":1,"v":0},{"row":16,"col":2,"v":1},{"row":16,"col":3,"v":0},{"row":16,"col":4,"v":0},{"row":16,"col":5,"v":0},{"row":16,"col":6,"v":0},{"row":16,"col":7,"v":0},{"row":16,"col":8,"v":0},{"row":16,"col":9,"v":0},{"row":16,"col":10,"v":0},{"row":16,"col":11,"v":0},{"row":16,"col":12,"v":0},{"row":16,"col":13,"v":0},{"row":16,"col":14,"v":0},{"row":16,"col":15,"v":0},{"row":16,"col":16,"v":0},{"row":16,"col":17,"v":0},{"row":16,"col":18,"v":0},{"row":16,"col":19,"v":0},{"row":16,"col":20,"v":0},{"row":16,"col":21,"v":0},{"row":16,"col":22,"v":0},{"row":16,"col":23,"v":0},{"row":16,"col":24,"v":0},{"row":16,"col":25,"v":0},{"row":16,"col":26,"v":0},{"row":16,"col":27,"v":0},{"row":16,"col":28,"v":2},{"row":16,"col":29,"v":0},{"row":16,"col":30,"v":0},{"row":16,"col":31,"v":0},{"row":16,"col":32,"v":72},{"row":16,"col":33,"v":72},{"row":16,"col":34,"v":70},{"row":16,"col":35,"v":100},{"row":16,"col":36,"v":74},{"row":16,"col":37,"v":76},{"row":16,"col":38,"v":80},{"row":16,"col":39,"v":78},{"row":16,"col":40,"v":74},{"row":16,"col":41,"v":74},{"row":16,"col":42,"v":72},{"row":16,"col":43,"v":72},{"row":16,"col":44,"v":76},{"row":16,"col":45,"v":72},{"row":16,"col":46,"v":60},{"row":16,"col":47,"v":72},{"row":16,"col":48,"v":72},{"row":16,"col":49,"v":72},
{"row":17,"col":1,"v":0},{"row":17,"col":2,"v":0},{"row":17,"col":3,"v":0},{"row":17,"col":4,"v":25},{"row":17,"col":5,"v":0},{"row":17,"col":6,"v":0},{"row":17,"col":7,"v":15},{"row":17,"col":8,"v":6},{"row":17,"col":9,"v":0},{"row":17,"col":10,"v":0},{"row":17,"col":11,"v":0},{"row":17,"col":12,"v":0},{"row":17,"col":13,"v":0},{"row":17,"col":14,"v":0},{"row":17,"col":15,"v":0},{"row":17,"col":16,"v":0},{"row":17,"col":17,"v":0},{"row":17,"col":18,"v":0},{"row":17,"col":19,"v":0},{"row":17,"col":20,"v":0},{"row":17,"col":21,"v":0},{"row":17,"col":22,"v":0},{"row":17,"col":23,"v":0},{"row":17,"col":24,"v":0},{"row":17,"col":25,"v":0},{"row":17,"col":26,"v":0},{"row":17,"col":27,"v":0},{"row":17,"col":28,"v":0},{"row":17,"col":29,"v":0},{"row":17,"col":30,"v":0},{"row":17,"col":31,"v":0},{"row":17,"col":32,"v":90},{"row":17,"col":33,"v":92},{"row":17,"col":34,"v":92},{"row":17,"col":35,"v":90},{"row":17,"col":36,"v":92},{"row":17,"col":37,"v":92},{"row":17,"col":38,"v":92},{"row":17,"col":39,"v":90},{"row":17,"col":40,"v":82},{"row":17,"col":41,"v":100},{"row":17,"col":42,"v":88},{"row":17,"col":43,"v":90},{"row":17,"col":44,"v":92},{"row":17,"col":45,"v":90},{"row":17,"col":46,"v":92},{"row":17,"col":47,"v":100},{"row":17,"col":48,"v":90},{"row":17,"col":49,"v":90},
{"row":18,"col":1,"v":0},{"row":18,"col":2,"v":0},{"row":18,"col":3,"v":0},{"row":18,"col":4,"v":0},{"row":18,"col":5,"v":0},{"row":18,"col":6,"v":2},{"row":18,"col":7,"v":0},{"row":18,"col":8,"v":0},{"row":18,"col":9,"v":0},{"row":18,"col":10,"v":0},{"row":18,"col":11,"v":0},{"row":18,"col":12,"v":0},{"row":18,"col":13,"v":0},{"row":18,"col":14,"v":0},{"row":18,"col":15,"v":0},{"row":18,"col":16,"v":0},{"row":18,"col":17,"v":0},{"row":18,"col":18,"v":0},{"row":18,"col":19,"v":0},{"row":18,"col":20,"v":0},{"row":18,"col":21,"v":0},{"row":18,"col":22,"v":0},{"row":18,"col":23,"v":0},{"row":18,"col":24,"v":0},{"row":18,"col":25,"v":0},{"row":18,"col":26,"v":0},{"row":18,"col":27,"v":0},{"row":18,"col":28,"v":0},{"row":18,"col":29,"v":0},{"row":18,"col":30,"v":0},{"row":18,"col":31,"v":0},{"row":18,"col":32,"v":82},{"row":18,"col":33,"v":85},{"row":18,"col":34,"v":82},{"row":18,"col":35,"v":100},{"row":18,"col":36,"v":84},{"row":18,"col":37,"v":84},{"row":18,"col":38,"v":84},{"row":18,"col":39,"v":84},{"row":18,"col":40,"v":82},{"row":18,"col":41,"v":84},{"row":18,"col":42,"v":82},{"row":18,"col":43,"v":82},{"row":18,"col":44,"v":84},{"row":18,"col":45,"v":84},{"row":18,"col":46,"v":82},{"row":18,"col":47,"v":84},{"row":18,"col":48,"v":82},{"row":18,"col":49,"v":86},
{"row":19,"col":1,"v":5},{"row":19,"col":2,"v":10},{"row":19,"col":3,"v":6},{"row":19,"col":4,"v":5},{"row":19,"col":5,"v":5},{"row":19,"col":6,"v":5},{"row":19,"col":7,"v":4},{"row":19,"col":8,"v":5},{"row":19,"col":9,"v":4},{"row":19,"col":10,"v":5},{"row":19,"col":11,"v":5},{"row":19,"col":12,"v":5},{"row":19,"col":13,"v":4},{"row":19,"col":14,"v":5},{"row":19,"col":15,"v":5},{"row":19,"col":16,"v":4},{"row":19,"col":17,"v":5},{"row":19,"col":18,"v":5},{"row":19,"col":19,"v":4},{"row":19,"col":20,"v":0},{"row":19,"col":21,"v":5},{"row":19,"col":22,"v":5},{"row":19,"col":23,"v":5},{"row":19,"col":24,"v":4},{"row":19,"col":25,"v":4},{"row":19,"col":26,"v":5},{"row":19,"col":27,"v":4},{"row":19,"col":28,"v":5},{"row":19,"col":29,"v":5},{"row":19,"col":30,"v":4},{"row":19,"col":31,"v":4},{"row":19,"col":32,"v":98},{"row":19,"col":33,"v":98},{"row":19,"col":34,"v":98},{"row":19,"col":35,"v":98},{"row":19,"col":36,"v":98},{"row":19,"col":37,"v":98},{"row":19,"col":38,"v":98},{"row":19,"col":39,"v":98},{"row":19,"col":40,"v":98},{"row":19,"col":41,"v":98},{"row":19,"col":42,"v":98},{"row":19,"col":43,"v":98},{"row":19,"col":44,"v":98},{"row":19,"col":45,"v":98},{"row":19,"col":46,"v":98},{"row":19,"col":47,"v":97},{"row":19,"col":48,"v":98},{"row":19,"col":49,"v":98},
{"row":20,"col":1,"v":0},{"row":20,"col":2,"v":0},{"row":20,"col":3,"v":0},{"row":20,"col":4,"v":0},{"row":20,"col":5,"v":0},{"row":20,"col":6,"v":0},{"row":20,"col":7,"v":0},{"row":20,"col":8,"v":0},{"row":20,"col":9,"v":0},{"row":20,"col":10,"v":0},{"row":20,"col":11,"v":0},{"row":20,"col":12,"v":0},{"row":20,"col":13,"v":0},{"row":20,"col":14,"v":0},{"row":20,"col":15,"v":0},{"row":20,"col":16,"v":0},{"row":20,"col":17,"v":0},{"row":20,"col":18,"v":0},{"row":20,"col":19,"v":0},{"row":20,"col":20,"v":0},{"row":20,"col":21,"v":0},{"row":20,"col":22,"v":0},{"row":20,"col":23,"v":0},{"row":20,"col":24,"v":0},{"row":20,"col":25,"v":0},{"row":20,"col":26,"v":0},{"row":20,"col":27,"v":0},{"row":20,"col":28,"v":0},{"row":20,"col":29,"v":0},{"row":20,"col":30,"v":0},{"row":20,"col":31,"v":0},{"row":20,"col":32,"v":94},{"row":20,"col":33,"v":94},{"row":20,"col":34,"v":94},{"row":20,"col":35,"v":100},{"row":20,"col":36,"v":94},{"row":20,"col":37,"v":94},{"row":20,"col":38,"v":94},{"row":20,"col":39,"v":94},{"row":20,"col":40,"v":94},{"row":20,"col":41,"v":94},{"row":20,"col":42,"v":94},{"row":20,"col":43,"v":94},{"row":20,"col":44,"v":94},{"row":20,"col":45,"v":94},{"row":20,"col":46,"v":94},{"row":20,"col":47,"v":94},{"row":20,"col":48,"v":94},{"row":20,"col":49,"v":94}
],
"cellsC":[
{"row":1,"col":1,"v":100},{"row":1,"col":2,"v":97},{"row":1,"col":3,"v":98},{"row":1,"col":4,"v":100},{"row":1,"col":5,"v":100},{"row":1,"col":6,"v":96},{"row":1,"col":7,"v":98},{"row":1,"col":8,"v":100},{"row":1,"col":9,"v":98},{"row":1,"col":10,"v":99},{"row":1,"col":11,"v":98},{"row":1,"col":12,"v":100},{"row":1,"col":13,"v":98},{"row":1,"col":14,"v":98},{"row":1,"col":15,"v":96},{"row":1,"col":16,"v":98},{"row":1,"col":17,"v":0},{"row":1,"col":18,"v":0},{"row":1,"col":19,"v":0},{"row":1,"col":20,"v":0},{"row":1,"col":21,"v":0},{"row":1,"col":22,"v":0},{"row":1,"col":23,"v":0},{"row":1,"col":24,"v":0},{"row":1,"col":25,"v":0},{"row":1,"col":26,"v":0},{"row":1,"col":27,"v":0},{"row":1,"col":28,"v":0},{"row":1,"col":29,"v":22},{"row":1,"col":30,"v":0},{"row":1,"col":31,"v":0},{"row":1,"col":32,"v":0},{"row":1,"col":33,"v":0},{"row":1,"col":34,"v":0},
{"row":2,"col":1,"v":88},{"row":2,"col":2,"v":88},{"row":2,"col":3,"v":88},{"row":2,"col":4,"v":100},{"row":2,"col":5,"v":88},{"row":2,"col":6,"v":80},{"row":2,"col":7,"v":88},{"row":2,"col":8,"v":88},{"row":2,"col":9,"v":87},{"row":2,"col":10,"v":88},{"row":2,"col":11,"v":88},{"row":2,"col":12,"v":85},{"row":2,"col":13,"v":88},{"row":2,"col":14,"v":88},{"row":2,"col":15,"v":90},{"row":2,"col":16,"v":85},{"row":2,"col":17,"v":0},{"row":2,"col":18,"v":10},{"row":2,"col":19,"v":2},{"row":2,"col":20,"v":2},{"row":2,"col":21,"v":2},{"row":2,"col":22,"v":2},{"row":2,"col":23,"v":2},{"row":2,"col":24,"v":2},{"row":2,"col":25,"v":2},{"row":2,"col":26,"v":2},{"row":2,"col":27,"v":2},{"row":2,"col":28,"v":2},{"row":2,"col":29,"v":6},{"row":2,"col":30,"v":4},{"row":2,"col":31,"v":2},{"row":2,"col":32,"v":2},{"row":2,"col":33,"v":2},{"row":2,"col":34,"v":4},
{"row":3,"col":1,"v":82},{"row":3,"col":2,"v":88},{"row":3,"col":3,"v":85},{"row":3,"col":4,"v":88},{"row":3,"col":5,"v":88},{"row":3,"col":6,"v":88},{"row":3,"col":7,"v":95},{"row":3,"col":8,"v":72},{"row":3,"col":9,"v":90},{"row":3,"col":10,"v":72},{"row":3,"col":11,"v":88},{"row":3,"col":12,"v":92},{"row":3,"col":13,"v":78},{"row":3,"col":14,"v":88},{"row":3,"col":15,"v":100},{"row":3,"col":16,"v":85},{"row":3,"col":17,"v":15},{"row":3,"col":18,"v":15},{"row":3,"col":19,"v":12},{"row":3,"col":20,"v":14},{"row":3,"col":21,"v":12},{"row":3,"col":22,"v":12},{"row":3,"col":23,"v":12},{"row":3,"col":24,"v":14},{"row":3,"col":25,"v":12},{"row":3,"col":26,"v":14},{"row":3,"col":27,"v":12},{"row":3,"col":28,"v":10},{"row":3,"col":29,"v":4},{"row":3,"col":30,"v":12},{"row":3,"col":31,"v":14},{"row":3,"col":32,"v":12},{"row":3,"col":33,"v":12},{"row":3,"col":34,"v":18},
{"row":4,"col":1,"v":68},{"row":4,"col":2,"v":68},{"row":4,"col":3,"v":100},{"row":4,"col":4,"v":68},{"row":4,"col":5,"v":70},{"row":4,"col":6,"v":68},{"row":4,"col":7,"v":68},{"row":4,"col":8,"v":70},{"row":4,"col":9,"v":75},{"row":4,"col":10,"v":72},{"row":4,"col":11,"v":70},{"row":4,"col":12,"v":68},{"row":4,"col":13,"v":70},{"row":4,"col":14,"v":70},{"row":4,"col":15,"v":92},{"row":4,"col":16,"v":68},{"row":4,"col":17,"v":0},{"row":4,"col":18,"v":0},{"row":4,"col":19,"v":0},{"row":4,"col":20,"v":0},{"row":4,"col":21,"v":0},{"row":4,"col":22,"v":0},{"row":4,"col":23,"v":0},{"row":4,"col":24,"v":0},{"row":4,"col":25,"v":0},{"row":4,"col":26,"v":0},{"row":4,"col":27,"v":0},{"row":4,"col":28,"v":0},{"row":4,"col":29,"v":0},{"row":4,"col":30,"v":0},{"row":4,"col":31,"v":0},{"row":4,"col":32,"v":0},{"row":4,"col":33,"v":0},{"row":4,"col":34,"v":0},
{"row":5,"col":1,"v":92},{"row":5,"col":2,"v":88},{"row":5,"col":3,"v":65},{"row":5,"col":4,"v":78},{"row":5,"col":5,"v":65},{"row":5,"col":6,"v":75},{"row":5,"col":7,"v":100},{"row":5,"col":8,"v":78},{"row":5,"col":9,"v":75},{"row":5,"col":10,"v":78},{"row":5,"col":11,"v":85},{"row":5,"col":12,"v":76},{"row":5,"col":13,"v":75},{"row":5,"col":14,"v":78},{"row":5,"col":15,"v":66},{"row":5,"col":16,"v":78},{"row":5,"col":17,"v":8},{"row":5,"col":18,"v":6},{"row":5,"col":19,"v":15},{"row":5,"col":20,"v":6},{"row":5,"col":21,"v":4},{"row":5,"col":22,"v":2},{"row":5,"col":23,"v":2},{"row":5,"col":24,"v":0},{"row":5,"col":25,"v":4},{"row":5,"col":26,"v":4},{"row":5,"col":27,"v":0},{"row":5,"col":28,"v":2},{"row":5,"col":29,"v":2},{"row":5,"col":30,"v":2},{"row":5,"col":31,"v":4},{"row":5,"col":32,"v":2},{"row":5,"col":33,"v":2},{"row":5,"col":34,"v":2},
{"row":6,"col":1,"v":72},{"row":6,"col":2,"v":72},{"row":6,"col":3,"v":70},{"row":6,"col":4,"v":75},{"row":6,"col":5,"v":70},{"row":6,"col":6,"v":70},{"row":6,"col":7,"v":70},{"row":6,"col":8,"v":78},{"row":6,"col":9,"v":72},{"row":6,"col":10,"v":72},{"row":6,"col":11,"v":84},{"row":6,"col":12,"v":100},{"row":6,"col":13,"v":64},{"row":6,"col":14,"v":70},{"row":6,"col":15,"v":60},{"row":6,"col":16,"v":72},{"row":6,"col":17,"v":0},{"row":6,"col":18,"v":0},{"row":6,"col":19,"v":0},{"row":6,"col":20,"v":0},{"row":6,"col":21,"v":10},{"row":6,"col":22,"v":0},{"row":6,"col":23,"v":0},{"row":6,"col":24,"v":0},{"row":6,"col":25,"v":0},{"row":6,"col":26,"v":0},{"row":6,"col":27,"v":0},{"row":6,"col":28,"v":0},{"row":6,"col":29,"v":0},{"row":6,"col":30,"v":8},{"row":6,"col":31,"v":0},{"row":6,"col":32,"v":0},{"row":6,"col":33,"v":0},{"row":6,"col":34,"v":0},
{"row":7,"col":1,"v":78},{"row":7,"col":2,"v":85},{"row":7,"col":3,"v":85},{"row":7,"col":4,"v":85},{"row":7,"col":5,"v":65},{"row":7,"col":6,"v":78},{"row":7,"col":7,"v":82},{"row":7,"col":8,"v":100},{"row":7,"col":9,"v":80},{"row":7,"col":10,"v":78},{"row":7,"col":11,"v":88},{"row":7,"col":12,"v":78},{"row":7,"col":13,"v":88},{"row":7,"col":14,"v":90},{"row":7,"col":15,"v":75},{"row":7,"col":16,"v":78},{"row":7,"col":17,"v":0},{"row":7,"col":18,"v":0},{"row":7,"col":19,"v":0},{"row":7,"col":20,"v":6},{"row":7,"col":21,"v":0},{"row":7,"col":22,"v":0},{"row":7,"col":23,"v":0},{"row":7,"col":24,"v":15},{"row":7,"col":25,"v":15},{"row":7,"col":26,"v":25},{"row":7,"col":27,"v":0},{"row":7,"col":28,"v":0},{"row":7,"col":29,"v":0},{"row":7,"col":30,"v":0},{"row":7,"col":31,"v":0},{"row":7,"col":32,"v":0},{"row":7,"col":33,"v":0},{"row":7,"col":34,"v":0},
{"row":8,"col":1,"v":72},{"row":8,"col":2,"v":80},{"row":8,"col":3,"v":75},{"row":8,"col":4,"v":80},{"row":8,"col":5,"v":72},{"row":8,"col":6,"v":100},{"row":8,"col":7,"v":80},{"row":8,"col":8,"v":90},{"row":8,"col":9,"v":75},{"row":8,"col":10,"v":80},{"row":8,"col":11,"v":90},{"row":8,"col":12,"v":87},{"row":8,"col":13,"v":74},{"row":8,"col":14,"v":100},{"row":8,"col":15,"v":76},{"row":8,"col":16,"v":84},{"row":8,"col":17,"v":12},{"row":8,"col":18,"v":15},{"row":8,"col":19,"v":10},{"row":8,"col":20,"v":0},{"row":8,"col":21,"v":15},{"row":8,"col":22,"v":28},{"row":8,"col":23,"v":25},{"row":8,"col":24,"v":15},{"row":8,"col":25,"v":15},{"row":8,"col":26,"v":22},{"row":8,"col":27,"v":15},{"row":8,"col":28,"v":14},{"row":8,"col":29,"v":12},{"row":8,"col":30,"v":8},{"row":8,"col":31,"v":10},{"row":8,"col":32,"v":10},{"row":8,"col":33,"v":8},{"row":8,"col":34,"v":10},
{"row":9,"col":1,"v":68},{"row":9,"col":2,"v":85},{"row":9,"col":3,"v":72},{"row":9,"col":4,"v":70},{"row":9,"col":5,"v":68},{"row":9,"col":6,"v":74},{"row":9,"col":7,"v":68},{"row":9,"col":8,"v":70},{"row":9,"col":9,"v":68},{"row":9,"col":10,"v":100},{"row":9,"col":11,"v":68},{"row":9,"col":12,"v":68},{"row":9,"col":13,"v":68},{"row":9,"col":14,"v":68},{"row":9,"col":15,"v":74},{"row":9,"col":16,"v":82},{"row":9,"col":17,"v":30},{"row":9,"col":18,"v":12},{"row":9,"col":19,"v":0},{"row":9,"col":20,"v":8},{"row":9,"col":21,"v":6},{"row":9,"col":22,"v":8},{"row":9,"col":23,"v":6},{"row":9,"col":24,"v":6},{"row":9,"col":25,"v":6},{"row":9,"col":26,"v":6},{"row":9,"col":27,"v":6},{"row":9,"col":28,"v":8},{"row":9,"col":29,"v":6},{"row":9,"col":30,"v":6},{"row":9,"col":31,"v":6},{"row":9,"col":32,"v":8},{"row":9,"col":33,"v":6},{"row":9,"col":34,"v":6},
{"row":10,"col":1,"v":68},{"row":10,"col":2,"v":72},{"row":10,"col":3,"v":86},{"row":10,"col":4,"v":68},{"row":10,"col":5,"v":60},{"row":10,"col":6,"v":92},{"row":10,"col":7,"v":72},{"row":10,"col":8,"v":78},{"row":10,"col":9,"v":100},{"row":10,"col":10,"v":72},{"row":10,"col":11,"v":68},{"row":10,"col":12,"v":95},{"row":10,"col":13,"v":96},{"row":10,"col":14,"v":52},{"row":10,"col":15,"v":76},{"row":10,"col":16,"v":68},{"row":10,"col":17,"v":0},{"row":10,"col":18,"v":0},{"row":10,"col":19,"v":4},{"row":10,"col":20,"v":0},{"row":10,"col":21,"v":0},{"row":10,"col":22,"v":0},{"row":10,"col":23,"v":0},{"row":10,"col":24,"v":0},{"row":10,"col":25,"v":0},{"row":10,"col":26,"v":0},{"row":10,"col":27,"v":0},{"row":10,"col":28,"v":0},{"row":10,"col":29,"v":6},{"row":10,"col":30,"v":0},{"row":10,"col":31,"v":0},{"row":10,"col":32,"v":0},{"row":10,"col":33,"v":0},{"row":10,"col":34,"v":0},
{"row":11,"col":1,"v":15},{"row":11,"col":2,"v":14},{"row":11,"col":3,"v":12},{"row":11,"col":4,"v":15},{"row":11,"col":5,"v":20},{"row":11,"col":6,"v":12},{"row":11,"col":7,"v":15},{"row":11,"col":8,"v":18},{"row":11,"col":9,"v":12},{"row":11,"col":10,"v":10},{"row":11,"col":11,"v":14},{"row":11,"col":12,"v":8},{"row":11,"col":13,"v":2},{"row":11,"col":14,"v":12},{"row":11,"col":15,"v":22},{"row":11,"col":16,"v":0},{"row":11,"col":17,"v":82},{"row":11,"col":18,"v":90},{"row":11,"col":19,"v":76},{"row":11,"col":20,"v":72},{"row":11,"col":21,"v":84},{"row":11,"col":22,"v":80},{"row":11,"col":23,"v":80},{"row":11,"col":24,"v":100},{"row":11,"col":25,"v":76},{"row":11,"col":26,"v":85},{"row":11,"col":27,"v":88},{"row":11,"col":28,"v":80},{"row":11,"col":29,"v":86},{"row":11,"col":30,"v":74},{"row":11,"col":31,"v":72},{"row":11,"col":32,"v":68},{"row":11,"col":33,"v":72},{"row":11,"col":34,"v":78},
{"row":12,"col":1,"v":12},{"row":12,"col":2,"v":0},{"row":12,"col":3,"v":0},{"row":12,"col":4,"v":0},{"row":12,"col":5,"v":0},{"row":12,"col":6,"v":0},{"row":12,"col":7,"v":0},{"row":12,"col":8,"v":0},{"row":12,"col":9,"v":0},{"row":12,"col":10,"v":0},{"row":12,"col":11,"v":0},{"row":12,"col":12,"v":0},{"row":12,"col":13,"v":0},{"row":12,"col":14,"v":0},{"row":12,"col":15,"v":0},{"row":12,"col":16,"v":0},{"row":12,"col":17,"v":66},{"row":12,"col":18,"v":66},{"row":12,"col":19,"v":64},{"row":12,"col":20,"v":86},{"row":12,"col":21,"v":64},{"row":12,"col":22,"v":66},{"row":12,"col":23,"v":65},{"row":12,"col":24,"v":65},{"row":12,"col":25,"v":66},{"row":12,"col":26,"v":64},{"row":12,"col":27,"v":65},{"row":12,"col":28,"v":62},{"row":12,"col":29,"v":64},{"row":12,"col":30,"v":68},{"row":12,"col":31,"v":70},{"row":12,"col":32,"v":82},{"row":12,"col":33,"v":66},{"row":12,"col":34,"v":100},
{"row":13,"col":1,"v":0},{"row":13,"col":2,"v":0},{"row":13,"col":3,"v":0},{"row":13,"col":4,"v":15},{"row":13,"col":5,"v":0},{"row":13,"col":6,"v":0},{"row":13,"col":7,"v":0},{"row":13,"col":8,"v":0},{"row":13,"col":9,"v":0},{"row":13,"col":10,"v":0},{"row":13,"col":11,"v":8},{"row":13,"col":12,"v":0},{"row":13,"col":13,"v":0},{"row":13,"col":14,"v":0},{"row":13,"col":15,"v":0},{"row":13,"col":16,"v":0},{"row":13,"col":17,"v":72},{"row":13,"col":18,"v":72},{"row":13,"col":19,"v":72},{"row":13,"col":20,"v":100},{"row":13,"col":21,"v":72},{"row":13,"col":22,"v":70},{"row":13,"col":23,"v":72},{"row":13,"col":24,"v":75},{"row":13,"col":25,"v":72},{"row":13,"col":26,"v":74},{"row":13,"col":27,"v":72},{"row":13,"col":28,"v":72},{"row":13,"col":29,"v":72},{"row":13,"col":30,"v":62},{"row":13,"col":31,"v":66},{"row":13,"col":32,"v":72},{"row":13,"col":33,"v":70},{"row":13,"col":34,"v":76},
{"row":14,"col":1,"v":0},{"row":14,"col":2,"v":0},{"row":14,"col":3,"v":0},{"row":14,"col":4,"v":0},{"row":14,"col":5,"v":0},{"row":14,"col":6,"v":0},{"row":14,"col":7,"v":0},{"row":14,"col":8,"v":0},{"row":14,"col":9,"v":0},{"row":14,"col":10,"v":0},{"row":14,"col":11,"v":0},{"row":14,"col":12,"v":0},{"row":14,"col":13,"v":0},{"row":14,"col":14,"v":0},{"row":14,"col":15,"v":0},{"row":14,"col":16,"v":0},{"row":14,"col":17,"v":70},{"row":14,"col":18,"v":68},{"row":14,"col":19,"v":70},{"row":14,"col":20,"v":100},{"row":14,"col":21,"v":76},{"row":14,"col":22,"v":80},{"row":14,"col":23,"v":70},{"row":14,"col":24,"v":76},{"row":14,"col":25,"v":72},{"row":14,"col":26,"v":72},{"row":14,"col":27,"v":74},{"row":14,"col":28,"v":72},{"row":14,"col":29,"v":74},{"row":14,"col":30,"v":72},{"row":14,"col":31,"v":60},{"row":14,"col":32,"v":72},{"row":14,"col":33,"v":72},{"row":14,"col":34,"v":70},
{"row":15,"col":1,"v":0},{"row":15,"col":2,"v":0},{"row":15,"col":3,"v":0},{"row":15,"col":4,"v":0},{"row":15,"col":5,"v":0},{"row":15,"col":6,"v":0},{"row":15,"col":7,"v":0},{"row":15,"col":8,"v":0},{"row":15,"col":9,"v":0},{"row":15,"col":10,"v":0},{"row":15,"col":11,"v":0},{"row":15,"col":12,"v":0},{"row":15,"col":13,"v":0},{"row":15,"col":14,"v":0},{"row":15,"col":15,"v":0},{"row":15,"col":16,"v":0},{"row":15,"col":17,"v":86},{"row":15,"col":18,"v":86},{"row":15,"col":19,"v":88},{"row":15,"col":20,"v":88},{"row":15,"col":21,"v":85},{"row":15,"col":22,"v":85},{"row":15,"col":23,"v":96},{"row":15,"col":24,"v":100},{"row":15,"col":25,"v":85},{"row":15,"col":26,"v":60},{"row":15,"col":27,"v":90},{"row":15,"col":28,"v":88},{"row":15,"col":29,"v":88},{"row":15,"col":30,"v":88},{"row":15,"col":31,"v":88},{"row":15,"col":32,"v":90},{"row":15,"col":33,"v":88},{"row":15,"col":34,"v":100},
{"row":16,"col":1,"v":0},{"row":16,"col":2,"v":0},{"row":16,"col":3,"v":0},{"row":16,"col":4,"v":0},{"row":16,"col":5,"v":0},{"row":16,"col":6,"v":0},{"row":16,"col":7,"v":0},{"row":16,"col":8,"v":0},{"row":16,"col":9,"v":0},{"row":16,"col":10,"v":0},{"row":16,"col":11,"v":28},{"row":16,"col":12,"v":0},{"row":16,"col":13,"v":0},{"row":16,"col":14,"v":0},{"row":16,"col":15,"v":0},{"row":16,"col":16,"v":0},{"row":16,"col":17,"v":100},{"row":16,"col":18,"v":100},{"row":16,"col":19,"v":100},{"row":16,"col":20,"v":98},{"row":16,"col":21,"v":96},{"row":16,"col":22,"v":97},{"row":16,"col":23,"v":96},{"row":16,"col":24,"v":98},{"row":16,"col":25,"v":98},{"row":16,"col":26,"v":97},{"row":16,"col":27,"v":100},{"row":16,"col":28,"v":98},{"row":16,"col":29,"v":98},{"row":16,"col":30,"v":98},{"row":16,"col":31,"v":90},{"row":16,"col":32,"v":97},{"row":16,"col":33,"v":96},{"row":16,"col":34,"v":94},
{"row":17,"col":1,"v":0},{"row":17,"col":2,"v":0},{"row":17,"col":3,"v":0},{"row":17,"col":4,"v":0},{"row":17,"col":5,"v":0},{"row":17,"col":6,"v":0},{"row":17,"col":7,"v":0},{"row":17,"col":8,"v":0},{"row":17,"col":9,"v":0},{"row":17,"col":10,"v":0},{"row":17,"col":11,"v":0},{"row":17,"col":12,"v":3},{"row":17,"col":13,"v":0},{"row":17,"col":14,"v":0},{"row":17,"col":15,"v":0},{"row":17,"col":16,"v":0},{"row":17,"col":17,"v":82},{"row":17,"col":18,"v":82},{"row":17,"col":19,"v":82},{"row":17,"col":20,"v":82},{"row":17,"col":21,"v":85},{"row":17,"col":22,"v":100},{"row":17,"col":23,"v":82},{"row":17,"col":24,"v":82},{"row":17,"col":25,"v":84},{"row":17,"col":26,"v":82},{"row":17,"col":27,"v":82},{"row":17,"col":28,"v":84},{"row":17,"col":29,"v":88},{"row":17,"col":30,"v":84},{"row":17,"col":31,"v":82},{"row":17,"col":32,"v":84},{"row":17,"col":33,"v":82},{"row":17,"col":34,"v":84},
{"row":18,"col":1,"v":0},{"row":18,"col":2,"v":0},{"row":18,"col":3,"v":0},{"row":18,"col":4,"v":0},{"row":18,"col":5,"v":0},{"row":18,"col":6,"v":0},{"row":18,"col":7,"v":0},{"row":18,"col":8,"v":0},{"row":18,"col":9,"v":4},{"row":18,"col":10,"v":0},{"row":18,"col":11,"v":0},{"row":18,"col":12,"v":0},{"row":18,"col":13,"v":0},{"row":18,"col":14,"v":0},{"row":18,"col":15,"v":0},{"row":18,"col":16,"v":0},{"row":18,"col":17,"v":84},{"row":18,"col":18,"v":86},{"row":18,"col":19,"v":100},{"row":18,"col":20,"v":84},{"row":18,"col":21,"v":84},{"row":18,"col":22,"v":84},{"row":18,"col":23,"v":86},{"row":18,"col":24,"v":84},{"row":18,"col":25,"v":84},{"row":18,"col":26,"v":86},{"row":18,"col":27,"v":84},{"row":18,"col":28,"v":84},{"row":18,"col":29,"v":84},{"row":18,"col":30,"v":86},{"row":18,"col":31,"v":84},{"row":18,"col":32,"v":84},{"row":18,"col":33,"v":84},{"row":18,"col":34,"v":84},
{"row":19,"col":1,"v":0},{"row":19,"col":2,"v":0},{"row":19,"col":3,"v":0},{"row":19,"col":4,"v":0},{"row":19,"col":5,"v":0},{"row":19,"col":6,"v":0},{"row":19,"col":7,"v":0},{"row":19,"col":8,"v":0},{"row":19,"col":9,"v":0},{"row":19,"col":10,"v":0},{"row":19,"col":11,"v":0},{"row":19,"col":12,"v":0},{"row":19,"col":13,"v":0},{"row":19,"col":14,"v":0},{"row":19,"col":15,"v":0},{"row":19,"col":16,"v":0},{"row":19,"col":17,"v":88},{"row":19,"col":18,"v":88},{"row":19,"col":19,"v":90},{"row":19,"col":20,"v":88},{"row":19,"col":21,"v":88},{"row":19,"col":22,"v":88},{"row":19,"col":23,"v":85},{"row":19,"col":24,"v":82},{"row":19,"col":25,"v":86},{"row":19,"col":26,"v":97},{"row":19,"col":27,"v":88},{"row":19,"col":28,"v":88},{"row":19,"col":29,"v":88},{"row":19,"col":30,"v":90},{"row":19,"col":31,"v":90},{"row":19,"col":32,"v":100},{"row":19,"col":33,"v":90},{"row":19,"col":34,"v":88},
{"row":20,"col":1,"v":0},{"row":20,"col":2,"v":0},{"row":20,"col":3,"v":0},{"row":20,"col":4,"v":15},{"row":20,"col":5,"v":0},{"row":20,"col":6,"v":0},{"row":20,"col":7,"v":0},{"row":20,"col":8,"v":0},{"row":20,"col":9,"v":0},{"row":20,"col":10,"v":0},{"row":20,"col":11,"v":0},{"row":20,"col":12,"v":0},{"row":20,"col":13,"v":0},{"row":20,"col":14,"v":0},{"row":20,"col":15,"v":0},{"row":20,"col":16,"v":0},{"row":20,"col":17,"v":92},{"row":20,"col":18,"v":92},{"row":20,"col":19,"v":92},{"row":20,"col":20,"v":100},{"row":20,"col":21,"v":92},{"row":20,"col":22,"v":92},{"row":20,"col":23,"v":92},{"row":20,"col":24,"v":92},{"row":20,"col":25,"v":92},{"row":20,"col":26,"v":90},{"row":20,"col":27,"v":92},{"row":20,"col":28,"v":92},{"row":20,"col":29,"v":92},{"row":20,"col":30,"v":92},{"row":20,"col":31,"v":90},{"row":20,"col":32,"v":92},{"row":20,"col":33,"v":92},{"row":20,"col":34,"v":92}
],
"annA":[{"col":1,"group":"Tumor"},{"col":2,"group":"Tumor"},{"col":3,"group":"Tumor"},{"col":4,"group":"Tumor"},{"col":5,"group":"Tumor"},{"col":6,"group":"Tumor"},{"col":7,"group":"Tumor"},{"col":8,"group":"Tumor"},{"col":9,"group":"Tumor"},{"col":10,"group":"Tumor"},{"col":11,"group":"Tumor"},{"col":12,"group":"Tumor"},{"col":13,"group":"Tumor"},{"col":14,"group":"Tumor"},{"col":15,"group":"Tumor"},{"col":16,"group":"Tumor"},{"col":17,"group":"Tumor"},{"col":18,"group":"Tumor"},{"col":19,"group":"Tumor"},{"col":20,"group":"Tumor"},{"col":21,"group":"Tumor"},{"col":22,"group":"Tumor"},{"col":23,"group":"Tumor"},{"col":24,"group":"Normal"},{"col":25,"group":"Normal"},{"col":26,"group":"Normal"},{"col":27,"group":"Normal"},{"col":28,"group":"Normal"},{"col":29,"group":"Normal"},{"col":30,"group":"Normal"},{"col":31,"group":"Normal"},{"col":32,"group":"Normal"},{"col":33,"group":"Normal"},{"col":34,"group":"Normal"},{"col":35,"group":"Normal"},{"col":36,"group":"Normal"},{"col":37,"group":"Normal"},{"col":38,"group":"Normal"},{"col":39,"group":"Normal"},{"col":40,"group":"Normal"},{"col":41,"group":"Normal"}],
"annB":[{"col":1,"group":"Tumor"},{"col":2,"group":"Tumor"},{"col":3,"group":"Tumor"},{"col":4,"group":"Tumor"},{"col":5,"group":"Tumor"},{"col":6,"group":"Tumor"},{"col":7,"group":"Tumor"},{"col":8,"group":"Tumor"},{"col":9,"group":"Tumor"},{"col":10,"group":"Tumor"},{"col":11,"group":"Tumor"},{"col":12,"group":"Tumor"},{"col":13,"group":"Tumor"},{"col":14,"group":"Tumor"},{"col":15,"group":"Tumor"},{"col":16,"group":"Tumor"},{"col":17,"group":"Tumor"},{"col":18,"group":"Tumor"},{"col":19,"group":"Tumor"},{"col":20,"group":"Tumor"},{"col":21,"group":"Tumor"},{"col":22,"group":"Tumor"},{"col":23,"group":"Tumor"},{"col":24,"group":"Tumor"},{"col":25,"group":"Tumor"},{"col":26,"group":"Tumor"},{"col":27,"group":"Tumor"},{"col":28,"group":"Tumor"},{"col":29,"group":"Tumor"},{"col":30,"group":"Tumor"},{"col":31,"group":"Tumor"},{"col":32,"group":"Normal"},{"col":33,"group":"Normal"},{"col":34,"group":"Normal"},{"col":35,"group":"Normal"},{"col":36,"group":"Normal"},{"col":37,"group":"Normal"},{"col":38,"group":"Normal"},{"col":39,"group":"Normal"},{"col":40,"group":"Normal"},{"col":41,"group":"Normal"},{"col":42,"group":"Normal"},{"col":43,"group":"Normal"},{"col":44,"group":"Normal"},{"col":45,"group":"Normal"},{"col":46,"group":"Normal"},{"col":47,"group":"Normal"},{"col":48,"group":"Normal"},{"col":49,"group":"Normal"}],
"annC":[{"col":1,"group":"Tumor"},{"col":2,"group":"Tumor"},{"col":3,"group":"Tumor"},{"col":4,"group":"Tumor"},{"col":5,"group":"Tumor"},{"col":6,"group":"Tumor"},{"col":7,"group":"Tumor"},{"col":8,"group":"Tumor"},{"col":9,"group":"Tumor"},{"col":10,"group":"Tumor"},{"col":11,"group":"Tumor"},{"col":12,"group":"Tumor"},{"col":13,"group":"Tumor"},{"col":14,"group":"Tumor"},{"col":15,"group":"Tumor"},{"col":16,"group":"Tumor"},{"col":17,"group":"Normal"},{"col":18,"group":"Normal"},{"col":19,"group":"Normal"},{"col":20,"group":"Normal"},{"col":21,"group":"Normal"},{"col":22,"group":"Normal"},{"col":23,"group":"Normal"},{"col":24,"group":"Normal"},{"col":25,"group":"Normal"},{"col":26,"group":"Normal"},{"col":27,"group":"Normal"},{"col":28,"group":"Normal"},{"col":29,"group":"Normal"},{"col":30,"group":"Normal"},{"col":31,"group":"Normal"},{"col":32,"group":"Normal"},{"col":33,"group":"Normal"},{"col":34,"group":"Normal"}],
"genesA":[{"row":1,"gene":"CD81-AS1","signal":"19.53"},{"row":2,"gene":"LOC102724561","signal":"13.94"},{"row":3,"gene":"IGF2-AS","signal":"12.49"},{"row":4,"gene":"ZNF414","signal":"11.72"},{"row":5,"gene":"NKX2-1","signal":"11.58"},{"row":6,"gene":"LOC284600","signal":"9.77"},{"row":7,"gene":"PTCSC1","signal":"7.27"},{"row":8,"gene":"FBXW8","signal":"6.88"},{"row":9,"gene":"AFAP1","signal":"5.76"},{"row":10,"gene":"PLEKHN1","signal":"5.48"},{"row":11,"gene":"SMPD2","signal":"-8.00"},{"row":12,"gene":"CCDC60","signal":"-8.06"},{"row":13,"gene":"ITPKB-IT1","signal":"-9.10"},{"row":14,"gene":"DCDC2B","signal":"-9.29"},{"row":15,"gene":"CD247","signal":"-10.13"},{"row":16,"gene":"FZD9","signal":"-10.48"},{"row":17,"gene":"SSPO","signal":"-15.53"},{"row":18,"gene":"DKFZP434K028","signal":"-18.90"},{"row":19,"gene":"LOC100505942","signal":"-23.38"},{"row":20,"gene":"LOC101928881","signal":"-61.20"}],
"genesB":[{"row":1,"gene":"TRAV12-2","signal":"32.51"},{"row":2,"gene":"IGF2-AS","signal":"21.52"},{"row":3,"gene":"ZNF414","signal":"19.48"},{"row":4,"gene":"LOC102724561","signal":"10.16"},{"row":5,"gene":"MAGOH2","signal":"8.11"},{"row":6,"gene":"FBXW8","signal":"7.70"},{"row":7,"gene":"PTCSC1","signal":"7.50"},{"row":8,"gene":"LOC100310756","signal":"6.41"},{"row":9,"gene":"PLEKHG2","signal":"6.05"},{"row":10,"gene":"C1orf112","signal":"5.76"},{"row":11,"gene":"C9orf172","signal":"-6.69"},{"row":12,"gene":"NCR2","signal":"-8.29"},{"row":13,"gene":"CES4A","signal":"-8.53"},{"row":14,"gene":"CD247","signal":"-9.93"},{"row":15,"gene":"FZD9","signal":"-10.61"},{"row":16,"gene":"DCDC2B","signal":"-10.67"},{"row":17,"gene":"LOC100505942","signal":"-12.71"},{"row":18,"gene":"DKFZP434K028","signal":"-18.02"},{"row":19,"gene":"SSPO","signal":"-29.57"},{"row":20,"gene":"LOC101928881","signal":"-61.66"}],
"genesC":[{"row":1,"gene":"IGF2-AS","signal":"22.49"},{"row":2,"gene":"ZNF414","signal":"16.66"},{"row":3,"gene":"LOC102724561","signal":"7.95"},{"row":4,"gene":"CD27","signal":"7.36"},{"row":5,"gene":"FBXW8","signal":"7.28"},{"row":6,"gene":"DPY19L1P1","signal":"6.46"},{"row":7,"gene":"PLEKHG2","signal":"6.44"},{"row":8,"gene":"AFAP1","signal":"5.63"},{"row":9,"gene":"LEPREL2","signal":"5.44"},{"row":10,"gene":"CD99P1","signal":"5.07"},{"row":11,"gene":"ZFP92","signal":"-6.87"},{"row":12,"gene":"NCR2","signal":"-7.16"},{"row":13,"gene":"C9orf172","signal":"-7.71"},{"row":14,"gene":"DCDC2B","signal":"-10.04"},{"row":15,"gene":"FZD9","signal":"-11.11"},{"row":16,"gene":"SSPO","signal":"-15.71"},{"row":17,"gene":"ADM5","signal":"-17.30"},{"row":18,"gene":"HMX1","signal":"-20.14"},{"row":19,"gene":"LOC100505942","signal":"-25.39"},{"row":20,"gene":"LOC101928881","signal":"-29.79"}]
},
"vconcat":[
{"hconcat":[
{"width":486,"height":265,"layer":[
{"data":{"name":"cellsA"},"mark":{"type":"rect","stroke":"white","strokeWidth":1},"encoding":{
"x":{"field":"col","type":"ordinal","scale":{"range":[2,486],"paddingInner":0,"paddingOuter":0},"axis":{"orient":"top","title":null,"labelExpr":"datum.label?(+datum.label<=23?'LONG':'NORMAL'):''","labelAngle":270,"tickBand":"extent","tickSize":47.4,"tickColor":"#eeeeee","offset":-9,"labelPadding":-45.4,"labelFontSize":10,"labelColor":"#333333","domain":false,"labelOverlap":false,"labelBound":false}},
"y":{"field":"row","type":"ordinal","scale":{"domain":["TYPE","Comparison",1,2,3,4,5,6,7,8,9,10,11,12,13,14,15,16,17,18,19,20],"range":[0,259.6],"paddingInner":0,"paddingOuter":0},"axis":{"orient":"left","values":["TYPE","Comparison"],"ticks":false,"domain":false,"labelOffset":-4,"labelPadding":0,"labelFontSize":9.3,"labelColor":"#333333","title":"A","titleX":-27,"titleY":-19,"titleAngle":0,"titleAlign":"center","titleBaseline":"alphabetic","titleFont":"Liberation Serif","titleFontSize":15,"titleFontWeight":"normal","titleColor":"#222222"}},
"color":{"field":"v","type":"quantitative","scale":{"domain":[0,50,100],"range":["#0000ff","#ffffff","#ff0000"],"interpolate":"rgb"},"legend":null}}},
{"data":{"name":"annA"},"mark":{"type":"rect","height":10,"yOffset":-4,"stroke":"#ffffff","strokeOpacity":0.3},"encoding":{
"x":{"field":"col","type":"ordinal"},
"y":{"datum":"Comparison"},
"fill":{"field":"group","type":"nominal","scale":{"domain":["Tumor","Normal"],"range":["#1b9e77","#d95f02"]},"legend":null}}}
]},
{"width":74,"height":265,"layer":[
{"data":{"name":"genesA"},"mark":{"type":"text","align":"left","baseline":"middle","fontSize":10,"color":"#333333"},"encoding":{
"x":{"datum":"id","type":"nominal","bandPosition":0,"axis":null,"scale":{"type":"band","paddingInner":0,"paddingOuter":0}},
"y":{"field":"row","type":"ordinal","axis":null,"scale":{"type":"band","domain":["TYPE","Comparison",1,2,3,4,5,6,7,8,9,10,11,12,13,14,15,16,17,18,19,20],"range":[0,259.6],"paddingInner":0,"paddingOuter":0}},
"text":{"field":"gene"}}},
{"data":{"values":[{"head":"id"}]},"mark":{"type":"text","align":"left","baseline":"middle","fontSize":9,"color":"#555555","dy":-2},"encoding":{
"x":{"datum":"id","type":"nominal","bandPosition":0},
"y":{"datum":"Comparison"},
"text":{"field":"head"}}}
]},
{"width":66,"height":265,"layer":[
{"data":{"name":"genesA"},"mark":{"type":"text","align":"left","baseline":"middle","fontSize":10,"color":"#333333"},"encoding":{
"x":{"datum":"Signal to noise","type":"nominal","bandPosition":0,"axis":null,"scale":{"type":"band","paddingInner":0,"paddingOuter":0}},
"y":{"field":"row","type":"ordinal","scale":{"type":"band","domain":["TYPE","Comparison",1,2,3,4,5,6,7,8,9,10,11,12,13,14,15,16,17,18,19,20],"range":[0,259.6],"paddingInner":0,"paddingOuter":0},"axis":{"orient":"left","title":null,"grid":true,"gridColor":"#eeeeee","bandPosition":0,"tickExtra":false,"values":[2,3,4,5,6,7,8,9,10,11,12,13,14,15,16,17,18,19,20],"labels":false,"ticks":false,"domain":false}},
"text":{"field":"signal"}}},
{"data":{"values":[{"head":"Signal to noise"}]},"mark":{"type":"text","align":"left","baseline":"middle","fontSize":9,"color":"#555555","dy":-2},"encoding":{
"x":{"datum":"Signal to noise","type":"nominal","bandPosition":0},
"y":{"datum":"Comparison"},
"text":{"field":"head"}}}
]}
],"spacing":6},
{"hconcat":[
{"width":579,"height":262.2,"layer":[
{"data":{"name":"cellsB"},"mark":{"type":"rect","stroke":"white","strokeWidth":1},"encoding":{
"x":{"field":"col","type":"ordinal","scale":{"paddingInner":0,"paddingOuter":0},"axis":{"orient":"top","title":null,"labelExpr":"datum.label?(+datum.label<=31?'MIDDLE':'NORMAL'):''","labelAngle":270,"tickBand":"extent","tickSize":47.4,"tickColor":"#eeeeee","offset":-9,"labelPadding":-45.4,"labelFontSize":10,"labelColor":"#333333","domain":false,"labelOverlap":false,"labelBound":false}},
"y":{"field":"row","type":"ordinal","scale":{"domain":["TYPE","Comparison",1,2,3,4,5,6,7,8,9,10,11,12,13,14,15,16,17,18,19,20],"range":[0,259.2],"paddingInner":0,"paddingOuter":0},"axis":{"orient":"left","values":["TYPE","Comparison"],"ticks":false,"domain":false,"labelOffset":-4,"labelPadding":1,"labelFontSize":9.3,"labelColor":"#333333","title":"B","titleX":-28,"titleY":-20.4,"titleAngle":0,"titleAlign":"center","titleBaseline":"alphabetic","titleFont":"Liberation Serif","titleFontSize":15,"titleFontWeight":"normal","titleColor":"#222222"}},
"color":{"field":"v","type":"quantitative","scale":{"domain":[0,50,100],"range":["#0000ff","#ffffff","#ff0000"],"interpolate":"rgb"},"legend":null}}},
{"data":{"name":"annB"},"mark":{"type":"rect","height":10,"yOffset":-4,"stroke":"#ffffff","strokeOpacity":0.3},"encoding":{
"x":{"field":"col","type":"ordinal"},
"y":{"datum":"Comparison"},
"fill":{"field":"group","type":"nominal","scale":{"domain":["Tumor","Normal"],"range":["#1b9e77","#d95f02"]},"legend":null}}}
]},
{"width":74,"height":262.2,"layer":[
{"data":{"name":"genesB"},"mark":{"type":"text","align":"left","baseline":"middle","fontSize":10,"color":"#333333"},"encoding":{
"x":{"datum":"id","type":"nominal","bandPosition":0,"axis":null,"scale":{"type":"band","paddingInner":0,"paddingOuter":0}},
"y":{"field":"row","type":"ordinal","axis":null,"scale":{"type":"band","domain":["TYPE","Comparison",1,2,3,4,5,6,7,8,9,10,11,12,13,14,15,16,17,18,19,20],"range":[0,259.2],"paddingInner":0,"paddingOuter":0}},
"text":{"field":"gene"}}},
{"data":{"values":[{"head":"id"}]},"mark":{"type":"text","align":"left","baseline":"middle","fontSize":9,"color":"#555555","dy":-2},"encoding":{
"x":{"datum":"id","type":"nominal","bandPosition":0},
"y":{"datum":"Comparison"},
"text":{"field":"head"}}}
]},
{"width":67,"height":262.2,"layer":[
{"data":{"name":"genesB"},"mark":{"type":"text","align":"left","baseline":"middle","fontSize":10,"color":"#333333"},"encoding":{
"x":{"datum":"Signal to noise","type":"nominal","bandPosition":0,"axis":null,"scale":{"type":"band","paddingInner":0,"paddingOuter":0}},
"y":{"field":"row","type":"ordinal","scale":{"type":"band","domain":["TYPE","Comparison",1,2,3,4,5,6,7,8,9,10,11,12,13,14,15,16,17,18,19,20],"range":[0,259.2],"paddingInner":0,"paddingOuter":0},"axis":{"orient":"left","title":null,"grid":true,"gridColor":"#eeeeee","bandPosition":0,"tickExtra":false,"values":[2,3,4,5,6,7,8,9,10,11,12,13,14,15,16,17,18,19,20],"labels":false,"ticks":false,"domain":false}},
"text":{"field":"signal"}}},
{"data":{"values":[{"head":"Signal to noise"}]},"mark":{"type":"text","align":"left","baseline":"middle","fontSize":9,"color":"#555555","dy":-2},"encoding":{
"x":{"datum":"Signal to noise","type":"nominal","bandPosition":0},
"y":{"datum":"Comparison"},
"text":{"field":"head"}}}
]}
],"spacing":6},
{"hconcat":[
{"width":401,"height":288.1,"layer":[
{"data":{"name":"cellsC"},"mark":{"type":"rect","stroke":"white","strokeWidth":1},"encoding":{
"x":{"field":"col","type":"ordinal","scale":{"paddingInner":0,"paddingOuter":0},"axis":{"orient":"top","title":null,"labelExpr":"datum.label?(+datum.label<=16?'SHORT':'NORMAL'):''","labelAngle":270,"tickBand":"extent","tickSize":47.4,"tickColor":"#eeeeee","offset":-9,"labelPadding":-45.4,"labelFontSize":10,"labelColor":"#333333","domain":false,"labelOverlap":false,"labelBound":false}},
"y":{"field":"row","type":"ordinal","scale":{"domain":["TYPE","Comparison",1,2,3,4,5,6,7,8,9,10,11,12,13,14,15,16,17,18,19,20],"range":[0,259.2],"paddingInner":0,"paddingOuter":0},"axis":{"orient":"left","values":["TYPE","Comparison"],"ticks":false,"domain":false,"labelOffset":-4,"labelPadding":1,"labelFontSize":9.3,"labelColor":"#333333","title":"C","titleX":-28.5,"titleY":-16.7,"titleAngle":0,"titleAlign":"center","titleBaseline":"alphabetic","titleFont":"Liberation Serif","titleFontSize":15,"titleFontWeight":"normal","titleColor":"#222222"}},
"color":{"field":"v","type":"quantitative","scale":{"domain":[0,50,100],"range":["#0000ff","#ffffff","#ff0000"],"interpolate":"rgb"},"legend":null}}},
{"data":{"name":"annC"},"mark":{"type":"rect","height":10,"yOffset":-4,"stroke":"#ffffff","strokeOpacity":0.3},"encoding":{
"x":{"field":"col","type":"ordinal"},
"y":{"datum":"Comparison"},
"fill":{"field":"group","type":"nominal","scale":{"domain":["Tumor","Normal"],"range":["#1b9e77","#d95f02"]},"legend":null}}}
]},
{"width":72,"height":288.1,"layer":[
{"data":{"name":"genesC"},"mark":{"type":"text","align":"left","baseline":"middle","fontSize":10,"color":"#333333"},"encoding":{
"x":{"datum":"id","type":"nominal","bandPosition":0,"axis":null,"scale":{"type":"band","paddingInner":0,"paddingOuter":0}},
"y":{"field":"row","type":"ordinal","axis":null,"scale":{"type":"band","domain":["TYPE","Comparison",1,2,3,4,5,6,7,8,9,10,11,12,13,14,15,16,17,18,19,20],"range":[0,259.2],"paddingInner":0,"paddingOuter":0}},
"text":{"field":"gene"}}},
{"data":{"values":[{"head":"id"}]},"mark":{"type":"text","align":"left","baseline":"middle","fontSize":9,"color":"#555555","dy":-2},"encoding":{
"x":{"datum":"id","type":"nominal","bandPosition":0},
"y":{"datum":"Comparison"},
"text":{"field":"head"}}}
]},
{"width":69,"height":288.1,"layer":[
{"data":{"name":"genesC"},"mark":{"type":"text","align":"left","baseline":"middle","fontSize":10,"color":"#333333"},"encoding":{
"x":{"datum":"Signal to noise","type":"nominal","bandPosition":0,"axis":null,"scale":{"type":"band","paddingInner":0,"paddingOuter":0}},
"y":{"field":"row","type":"ordinal","scale":{"type":"band","domain":["TYPE","Comparison",1,2,3,4,5,6,7,8,9,10,11,12,13,14,15,16,17,18,19,20],"range":[0,259.2],"paddingInner":0,"paddingOuter":0},"axis":{"orient":"left","title":null,"grid":true,"gridColor":"#eeeeee","bandPosition":0,"tickExtra":false,"values":[2,3,4,5,6,7,8,9,10,11,12,13,14,15,16,17,18,19,20],"labels":false,"ticks":false,"domain":false}},
"text":{"field":"signal"}}},
{"data":{"values":[{"head":"Signal to noise"}]},"mark":{"type":"text","align":"left","baseline":"middle","fontSize":9,"color":"#555555","dy":-2},"encoding":{
"x":{"datum":"Signal to noise","type":"nominal","bandPosition":0},
"y":{"datum":"Comparison"},
"text":{"field":"head"}}}
]}
],"spacing":6},
{"width":317.7,"height":33.7,"data":{"values":[{"name":"Tumor"},{"name":"Normal"}]},"mark":{"type":"rect","stroke":"#dddddd"},"encoding":{
"x":{"datum":"swatch","type":"nominal","axis":null,"scale":{"range":[306,317.7]}},
"y":{"field":"name","type":"nominal","sort":["Tumor","Normal"],"scale":{"range":[0,26],"paddingInner":0.15,"paddingOuter":0},"axis":{"orient":"right","title":null,"ticks":false,"domain":false,"labelFont":"Liberation Serif","labelFontSize":16,"labelPadding":7,"labelOffset":-1,"labelColor":"#222222"}},
"fill":{"field":"name","type":"nominal","scale":{"domain":["Tumor","Normal"],"range":["#1b9e77","#d95f02"]},"legend":null}}},
{"width":486,"height":9.3,"data":{"values":[{"low":"row min","high":"row max"}]},"mark":{"type":"rect","stroke":"#dddddd","color":{"x1":0,"y1":0,"x2":1,"y2":0,"gradient":"linear","stops":[{"offset":0,"color":"#0000ff"},{"offset":0.5,"color":"#ffffff"},{"offset":1,"color":"#ff0000"}]}},"encoding":{
"x":{"field":"low","type":"nominal","scale":{"type":"point","padding":0,"domain":["row min","row max"],"range":[266,434]},"axis":{"orient":"bottom","title":null,"ticks":false,"domain":false,"labelAngle":0,"labelFontSize":9,"labelColor":"#444444","labelPadding":4}},
"x2":{"field":"high"}}}
]}
